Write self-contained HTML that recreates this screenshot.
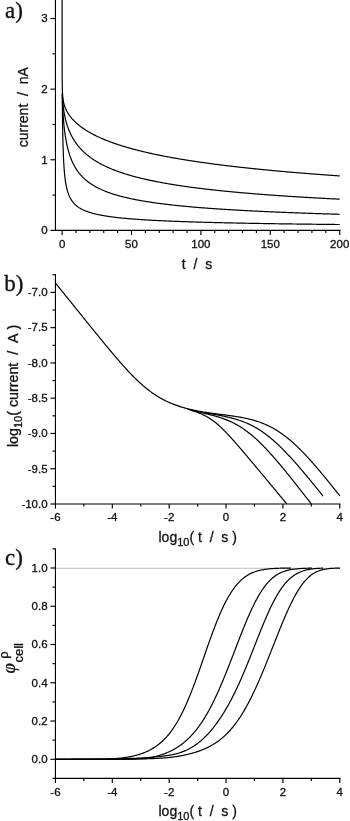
<!DOCTYPE html>
<html lang="en"><head><meta charset="utf-8"><title>Figure</title>
<style>
html,body{margin:0;padding:0;background:#fff;}
svg{display:block;}
svg{font-family:"Liberation Sans",sans-serif;}
svg text{fill:#111;stroke:#111;stroke-width:0.3px;}
</style></head><body>
<svg width="350" height="821" viewBox="0 0 350 821">
<rect width="350" height="821" fill="#fff"/>
<line x1="55.45" y1="-5.00" x2="55.45" y2="230.97" stroke="#000" stroke-width="1.15"/>
<line x1="54.88" y1="230.40" x2="340.57" y2="230.40" stroke="#000" stroke-width="1.15"/>
<line x1="50.45" y1="230.40" x2="55.45" y2="230.40" stroke="#000" stroke-width="1.15"/>
<text x="47.60" y="234.20" font-size="11.5" text-anchor="end" >0</text>
<line x1="50.45" y1="159.77" x2="55.45" y2="159.77" stroke="#000" stroke-width="1.15"/>
<text x="47.60" y="163.57" font-size="11.5" text-anchor="end" >1</text>
<line x1="50.45" y1="89.14" x2="55.45" y2="89.14" stroke="#000" stroke-width="1.15"/>
<text x="47.60" y="92.94" font-size="11.5" text-anchor="end" >2</text>
<line x1="50.45" y1="18.51" x2="55.45" y2="18.51" stroke="#000" stroke-width="1.15"/>
<text x="47.60" y="22.31" font-size="11.5" text-anchor="end" >3</text>
<line x1="52.45" y1="195.09" x2="55.45" y2="195.09" stroke="#000" stroke-width="1.15"/>
<line x1="52.45" y1="124.46" x2="55.45" y2="124.46" stroke="#000" stroke-width="1.15"/>
<line x1="52.45" y1="53.83" x2="55.45" y2="53.83" stroke="#000" stroke-width="1.15"/>
<line x1="62.10" y1="230.40" x2="62.10" y2="235.00" stroke="#000" stroke-width="1.15"/>
<text x="62.10" y="247.70" font-size="11.5" text-anchor="middle" >0</text>
<line x1="75.98" y1="230.40" x2="75.98" y2="233.00" stroke="#000" stroke-width="1.15"/>
<line x1="89.86" y1="230.40" x2="89.86" y2="233.00" stroke="#000" stroke-width="1.15"/>
<line x1="103.74" y1="230.40" x2="103.74" y2="233.00" stroke="#000" stroke-width="1.15"/>
<line x1="117.62" y1="230.40" x2="117.62" y2="233.00" stroke="#000" stroke-width="1.15"/>
<line x1="131.50" y1="230.40" x2="131.50" y2="235.00" stroke="#000" stroke-width="1.15"/>
<text x="131.50" y="247.70" font-size="11.5" text-anchor="middle" >50</text>
<line x1="145.38" y1="230.40" x2="145.38" y2="233.00" stroke="#000" stroke-width="1.15"/>
<line x1="159.26" y1="230.40" x2="159.26" y2="233.00" stroke="#000" stroke-width="1.15"/>
<line x1="173.14" y1="230.40" x2="173.14" y2="233.00" stroke="#000" stroke-width="1.15"/>
<line x1="187.02" y1="230.40" x2="187.02" y2="233.00" stroke="#000" stroke-width="1.15"/>
<line x1="200.90" y1="230.40" x2="200.90" y2="235.00" stroke="#000" stroke-width="1.15"/>
<text x="200.90" y="247.70" font-size="11.5" text-anchor="middle" >100</text>
<line x1="214.78" y1="230.40" x2="214.78" y2="233.00" stroke="#000" stroke-width="1.15"/>
<line x1="228.66" y1="230.40" x2="228.66" y2="233.00" stroke="#000" stroke-width="1.15"/>
<line x1="242.54" y1="230.40" x2="242.54" y2="233.00" stroke="#000" stroke-width="1.15"/>
<line x1="256.42" y1="230.40" x2="256.42" y2="233.00" stroke="#000" stroke-width="1.15"/>
<line x1="270.30" y1="230.40" x2="270.30" y2="235.00" stroke="#000" stroke-width="1.15"/>
<text x="270.30" y="247.70" font-size="11.5" text-anchor="middle" >150</text>
<line x1="284.18" y1="230.40" x2="284.18" y2="233.00" stroke="#000" stroke-width="1.15"/>
<line x1="298.06" y1="230.40" x2="298.06" y2="233.00" stroke="#000" stroke-width="1.15"/>
<line x1="311.94" y1="230.40" x2="311.94" y2="233.00" stroke="#000" stroke-width="1.15"/>
<line x1="325.82" y1="230.40" x2="325.82" y2="233.00" stroke="#000" stroke-width="1.15"/>
<line x1="339.70" y1="230.40" x2="339.70" y2="235.00" stroke="#000" stroke-width="1.15"/>
<text x="339.70" y="247.70" font-size="11.5" text-anchor="middle" >200</text>
<path d="M62.26,93.10 L62.26,93.70 L62.27,94.31 L62.27,94.91 L62.27,95.51 L62.28,96.11 L62.28,96.71 L62.29,97.31 L62.29,97.91 L62.30,98.52 L62.30,99.12 L62.31,99.72 L62.31,100.32 L62.32,100.92 L62.32,101.52 L62.33,102.12 L62.34,102.73 L62.34,103.33 L62.35,103.93 L62.35,104.53 L62.36,105.13 L62.36,105.73 L62.37,106.34 L62.38,106.94 L62.38,107.54 L62.39,108.14 L62.40,108.74 L62.40,109.34 L62.41,109.94 L62.42,110.55 L62.42,111.15 L62.43,111.75 L62.44,112.35 L62.44,112.95 L62.45,113.55 L62.46,114.15 L62.46,114.76 L62.47,115.36 L62.48,115.96 L62.49,116.56 L62.49,117.16 L62.50,117.76 L62.51,118.36 L62.52,118.97 L62.53,119.57 L62.53,120.17 L62.54,120.77 L62.55,121.37 L62.56,121.97 L62.57,122.58 L62.58,123.18 L62.59,123.78 L62.60,124.38 L62.61,124.98 L62.62,125.58 L62.62,126.18 L62.63,126.79 L62.64,127.39 L62.65,127.99 L62.66,128.59 L62.68,129.19 L62.69,129.79 L62.70,130.39 L62.71,131.00 L62.72,131.60 L62.73,132.20 L62.74,132.80 L62.75,133.40 L62.77,134.00 L62.78,134.60 L62.79,135.21 L62.80,135.81 L62.82,136.41 L62.83,137.01 L62.84,137.61 L62.86,138.21 L62.87,138.81 L62.88,139.41 L62.90,140.02 L62.91,140.62 L62.93,141.22 L62.94,141.82 L62.96,142.42 L62.97,143.02 L62.99,143.62 L63.01,144.23 L63.02,144.83 L63.04,145.43 L63.06,146.03 L63.08,146.63 L63.10,147.23 L63.11,147.83 L63.13,148.43 L63.15,149.04 L63.17,149.64 L63.19,150.24 L63.21,150.84 L63.23,151.44 L63.26,152.04 L63.28,152.64 L63.30,153.24 L63.32,153.84 L63.35,154.45 L63.37,155.05 L63.40,155.65 L63.42,156.25 L63.45,156.85 L63.48,157.45 L63.50,158.05 L63.53,158.65 L63.56,159.25 L63.59,159.85 L63.62,160.45 L63.65,161.06 L63.68,161.66 L63.72,162.26 L63.75,162.86 L63.78,163.46 L63.82,164.06 L63.86,164.66 L63.89,165.26 L63.93,165.86 L63.97,166.46 L64.01,167.06 L64.05,167.66 L64.10,168.26 L64.14,168.86 L64.19,169.46 L64.23,170.06 L64.28,170.66 L64.33,171.26 L64.38,171.86 L64.44,172.46 L64.49,173.06 L64.55,173.65 L64.61,174.25 L64.67,174.85 L64.73,175.45 L64.79,176.05 L64.86,176.65 L64.93,177.24 L65.00,177.84 L65.07,178.44 L65.15,179.04 L65.22,179.63 L65.31,180.23 L65.39,180.82 L65.48,181.42 L65.57,182.01 L65.66,182.61 L65.76,183.20 L65.86,183.79 L65.96,184.39 L66.07,184.98 L66.19,185.57 L66.30,186.16 L66.42,186.75 L66.55,187.34 L66.68,187.92 L66.82,188.51 L66.96,189.09 L67.11,189.67 L67.27,190.26 L67.43,190.84 L67.60,191.41 L67.78,191.99 L67.96,192.56 L68.15,193.13 L68.35,193.70 L68.56,194.26 L68.77,194.83 L69.00,195.38 L69.23,195.94 L69.48,196.49 L69.73,197.03 L70.00,197.57 L70.27,198.10 L70.56,198.63 L70.86,199.16 L71.17,199.67 L71.49,200.18 L71.83,200.68 L72.17,201.17 L72.53,201.66 L72.90,202.13 L73.28,202.60 L73.67,203.05 L74.07,203.50 L74.49,203.94 L74.91,204.36 L75.35,204.78 L75.79,205.18 L76.25,205.57 L76.71,205.96 L77.19,206.33 L77.67,206.69 L78.16,207.04 L78.65,207.38 L79.15,207.71 L79.66,208.03 L80.18,208.34 L80.70,208.64 L81.23,208.93 L81.76,209.21 L82.29,209.49 L82.83,209.75 L83.38,210.01 L83.93,210.26 L84.48,210.50 L85.03,210.73 L85.59,210.96 L86.15,211.18 L86.71,211.39 L87.28,211.60 L87.84,211.80 L88.41,211.99 L88.98,212.18 L89.55,212.37 L90.13,212.55 L90.70,212.72 L91.28,212.89 L91.86,213.06 L92.44,213.22 L93.02,213.38 L93.60,213.53 L94.18,213.68 L94.77,213.82 L95.35,213.97 L95.94,214.10 L96.52,214.24 L97.11,214.37 L97.70,214.50 L98.29,214.62 L98.88,214.75 L99.47,214.87 L100.06,214.98 L100.65,215.10 L101.24,215.21 L101.83,215.32 L102.42,215.43 L103.01,215.53 L103.61,215.64 L104.20,215.74 L104.79,215.84 L105.39,215.93 L105.98,216.03 L106.57,216.12 L107.17,216.21 L107.76,216.30 L108.36,216.39 L108.95,216.48 L109.55,216.56 L110.14,216.65 L110.74,216.73 L111.34,216.81 L111.93,216.89 L112.53,216.97 L113.13,217.04 L113.72,217.12 L114.32,217.19 L114.92,217.26 L115.51,217.34 L116.11,217.41 L116.71,217.48 L117.31,217.54 L117.90,217.61 L118.50,217.68 L119.10,217.74 L119.70,217.80 L120.30,217.87 L120.89,217.93 L121.49,217.99 L122.09,218.05 L122.69,218.11 L123.29,218.17 L123.89,218.23 L124.49,218.28 L125.09,218.34 L125.68,218.39 L126.28,218.45 L126.88,218.50 L127.48,218.56 L128.08,218.61 L128.68,218.66 L129.28,218.71 L129.88,218.76 L130.48,218.81 L131.08,218.86 L131.68,218.91 L132.28,218.95 L132.88,219.00 L133.48,219.05 L134.08,219.09 L134.68,219.14 L135.28,219.18 L135.88,219.23 L136.48,219.27 L137.08,219.32 L137.68,219.36 L138.28,219.40 L138.88,219.44 L139.48,219.48 L140.08,219.52 L140.68,219.57 L141.28,219.61 L141.88,219.64 L142.48,219.68 L143.08,219.72 L143.68,219.76 L144.28,219.80 L144.88,219.84 L145.48,219.87 L146.08,219.91 L146.68,219.95 L147.28,219.98 L147.88,220.02 L148.48,220.05 L149.08,220.09 L149.68,220.12 L150.28,220.15 L150.88,220.19 L151.48,220.22 L152.08,220.25 L152.69,220.29 L153.29,220.32 L153.89,220.35 L154.49,220.38 L155.09,220.42 L155.69,220.45 L156.29,220.48 L156.89,220.51 L157.49,220.54 L158.09,220.57 L158.69,220.60 L159.29,220.63 L159.89,220.66 L160.50,220.69 L161.10,220.71 L161.70,220.74 L162.30,220.77 L162.90,220.80 L163.50,220.83 L164.10,220.85 L164.70,220.88 L165.30,220.91 L165.90,220.93 L166.50,220.96 L167.10,220.99 L167.71,221.01 L168.31,221.04 L168.91,221.06 L169.51,221.09 L170.11,221.11 L170.71,221.14 L171.31,221.16 L171.91,221.19 L172.51,221.21 L173.11,221.24 L173.72,221.26 L174.32,221.29 L174.92,221.31 L175.52,221.33 L176.12,221.36 L176.72,221.38 L177.32,221.40 L177.92,221.42 L178.52,221.45 L179.13,221.47 L179.73,221.49 L180.33,221.51 L180.93,221.54 L181.53,221.56 L182.13,221.58 L182.73,221.60 L183.33,221.62 L183.93,221.64 L184.54,221.66 L185.14,221.68 L185.74,221.70 L186.34,221.72 L186.94,221.74 L187.54,221.76 L188.14,221.78 L188.74,221.80 L189.35,221.82 L189.95,221.84 L190.55,221.86 L191.15,221.88 L191.75,221.90 L192.35,221.92 L192.95,221.94 L193.55,221.96 L194.16,221.98 L194.76,222.00 L195.36,222.01 L195.96,222.03 L196.56,222.05 L197.16,222.07 L197.76,222.09 L198.36,222.10 L198.97,222.12 L199.57,222.14 L200.17,222.16 L200.77,222.17 L201.37,222.19 L201.97,222.21 L202.57,222.23 L203.17,222.24 L203.78,222.26 L204.38,222.28 L204.98,222.29 L205.58,222.31 L206.18,222.33 L206.78,222.34 L207.38,222.36 L207.98,222.37 L208.59,222.39 L209.19,222.41 L209.79,222.42 L210.39,222.44 L210.99,222.45 L211.59,222.47 L212.19,222.49 L212.80,222.50 L213.40,222.52 L214.00,222.53 L214.60,222.55 L215.20,222.56 L215.80,222.58 L216.40,222.59 L217.00,222.61 L217.61,222.62 L218.21,222.63 L218.81,222.65 L219.41,222.66 L220.01,222.68 L220.61,222.69 L221.21,222.71 L221.82,222.72 L222.42,222.73 L223.02,222.75 L223.62,222.76 L224.22,222.78 L224.82,222.79 L225.42,222.80 L226.03,222.82 L226.63,222.83 L227.23,222.84 L227.83,222.86 L228.43,222.87 L229.03,222.88 L229.63,222.90 L230.23,222.91 L230.84,222.92 L231.44,222.94 L232.04,222.95 L232.64,222.96 L233.24,222.97 L233.84,222.99 L234.44,223.00 L235.05,223.01 L235.65,223.02 L236.25,223.04 L236.85,223.05 L237.45,223.06 L238.05,223.07 L238.65,223.08 L239.26,223.10 L239.86,223.11 L240.46,223.12 L241.06,223.13 L241.66,223.14 L242.26,223.16 L242.86,223.17 L243.47,223.18 L244.07,223.19 L244.67,223.20 L245.27,223.21 L245.87,223.23 L246.47,223.24 L247.07,223.25 L247.68,223.26 L248.28,223.27 L248.88,223.28 L249.48,223.29 L250.08,223.30 L250.68,223.32 L251.28,223.33 L251.89,223.34 L252.49,223.35 L253.09,223.36 L253.69,223.37 L254.29,223.38 L254.89,223.39 L255.49,223.40 L256.10,223.41 L256.70,223.42 L257.30,223.43 L257.90,223.44 L258.50,223.45 L259.10,223.46 L259.70,223.47 L260.31,223.48 L260.91,223.49 L261.51,223.50 L262.11,223.51 L262.71,223.52 L263.31,223.53 L263.91,223.54 L264.52,223.55 L265.12,223.56 L265.72,223.57 L266.32,223.58 L266.92,223.59 L267.52,223.60 L268.12,223.61 L268.73,223.62 L269.33,223.63 L269.93,223.64 L270.53,223.65 L271.13,223.66 L271.73,223.67 L272.33,223.68 L272.94,223.69 L273.54,223.70 L274.14,223.71 L274.74,223.72 L275.34,223.73 L275.94,223.73 L276.54,223.74 L277.15,223.75 L277.75,223.76 L278.35,223.77 L278.95,223.78 L279.55,223.79 L280.15,223.80 L280.75,223.81 L281.36,223.82 L281.96,223.82 L282.56,223.83 L283.16,223.84 L283.76,223.85 L284.36,223.86 L284.97,223.87 L285.57,223.88 L286.17,223.88 L286.77,223.89 L287.37,223.90 L287.97,223.91 L288.57,223.92 L289.18,223.93 L289.78,223.93 L290.38,223.94 L290.98,223.95 L291.58,223.96 L292.18,223.97 L292.78,223.98 L293.39,223.98 L293.99,223.99 L294.59,224.00 L295.19,224.01 L295.79,224.02 L296.39,224.02 L296.99,224.03 L297.60,224.04 L298.20,224.05 L298.80,224.06 L299.40,224.06 L300.00,224.07 L300.60,224.08 L301.20,224.09 L301.81,224.09 L302.41,224.10 L303.01,224.11 L303.61,224.12 L304.21,224.12 L304.81,224.13 L305.42,224.14 L306.02,224.15 L306.62,224.15 L307.22,224.16 L307.82,224.17 L308.42,224.18 L309.02,224.18 L309.63,224.19 L310.23,224.20 L310.83,224.21 L311.43,224.21 L312.03,224.22 L312.63,224.23 L313.23,224.24 L313.84,224.24 L314.44,224.25 L315.04,224.26 L315.64,224.26 L316.24,224.27 L316.84,224.28 L317.44,224.28 L318.05,224.29 L318.65,224.30 L319.25,224.31 L319.85,224.31 L320.45,224.32 L321.05,224.33 L321.66,224.33 L322.26,224.34 L322.86,224.35 L323.46,224.35 L324.06,224.36 L324.66,224.37 L325.26,224.37 L325.87,224.38 L326.47,224.39 L327.07,224.39 L327.67,224.40 L328.27,224.41 L328.87,224.41 L329.47,224.42 L330.08,224.43 L330.68,224.43 L331.28,224.44 L331.88,224.45 L332.48,224.45 L333.08,224.46 L333.69,224.46 L334.29,224.47 L334.89,224.48 L335.49,224.48 L336.09,224.49 L336.69,224.50 L337.29,224.50 L337.90,224.51 L338.50,224.52 L339.10,224.52 L339.70,224.53" fill="none" stroke="#000" stroke-width="1.2" stroke-linejoin="round"/>
<path d="M62.35,94.61 L62.36,95.21 L62.37,95.81 L62.38,96.41 L62.40,97.01 L62.41,97.61 L62.43,98.22 L62.44,98.82 L62.46,99.42 L62.47,100.02 L62.49,100.62 L62.51,101.22 L62.53,101.82 L62.55,102.43 L62.57,103.03 L62.59,103.63 L62.61,104.23 L62.63,104.83 L62.65,105.43 L62.68,106.03 L62.70,106.63 L62.73,107.23 L62.76,107.84 L62.78,108.44 L62.81,109.04 L62.84,109.64 L62.87,110.24 L62.90,110.84 L62.93,111.44 L62.97,112.04 L63.00,112.64 L63.04,113.24 L63.07,113.84 L63.11,114.44 L63.15,115.04 L63.19,115.64 L63.23,116.24 L63.27,116.84 L63.31,117.44 L63.35,118.04 L63.40,118.64 L63.45,119.24 L63.49,119.84 L63.54,120.44 L63.59,121.04 L63.64,121.64 L63.69,122.24 L63.75,122.84 L63.80,123.44 L63.86,124.04 L63.92,124.64 L63.97,125.23 L64.03,125.83 L64.10,126.43 L64.16,127.03 L64.22,127.63 L64.29,128.23 L64.36,128.82 L64.43,129.42 L64.50,130.02 L64.57,130.62 L64.65,131.21 L64.72,131.81 L64.80,132.41 L64.88,133.00 L64.96,133.60 L65.05,134.19 L65.13,134.79 L65.22,135.38 L65.31,135.98 L65.40,136.57 L65.50,137.17 L65.59,137.76 L65.69,138.35 L65.79,138.95 L65.89,139.54 L66.00,140.13 L66.11,140.72 L66.22,141.32 L66.33,141.91 L66.45,142.50 L66.56,143.09 L66.68,143.68 L66.81,144.26 L66.93,144.85 L67.06,145.44 L67.19,146.03 L67.33,146.61 L67.47,147.20 L67.61,147.78 L67.75,148.37 L67.90,148.95 L68.05,149.53 L68.21,150.11 L68.37,150.69 L68.53,151.27 L68.69,151.85 L68.86,152.43 L69.04,153.00 L69.21,153.58 L69.40,154.15 L69.58,154.73 L69.77,155.30 L69.96,155.87 L70.16,156.43 L70.37,157.00 L70.57,157.56 L70.78,158.13 L71.00,158.69 L71.22,159.25 L71.45,159.81 L71.68,160.36 L71.92,160.91 L72.16,161.46 L72.40,162.01 L72.66,162.56 L72.91,163.10 L73.18,163.64 L73.44,164.18 L73.72,164.72 L74.00,165.25 L74.28,165.78 L74.57,166.31 L74.87,166.83 L75.17,167.35 L75.48,167.87 L75.79,168.38 L76.11,168.89 L76.44,169.40 L76.77,169.90 L77.11,170.40 L77.45,170.89 L77.80,171.38 L78.16,171.87 L78.52,172.35 L78.88,172.82 L79.26,173.29 L79.64,173.76 L80.02,174.22 L80.41,174.68 L80.81,175.13 L81.21,175.58 L81.62,176.03 L82.03,176.46 L82.45,176.90 L82.87,177.32 L83.30,177.75 L83.73,178.16 L84.17,178.57 L84.61,178.98 L85.06,179.38 L85.51,179.78 L85.97,180.17 L86.43,180.55 L86.90,180.93 L87.37,181.31 L87.85,181.68 L88.33,182.04 L88.81,182.40 L89.30,182.75 L89.79,183.10 L90.28,183.44 L90.78,183.78 L91.28,184.11 L91.78,184.44 L92.29,184.77 L92.80,185.08 L93.31,185.40 L93.83,185.71 L94.35,186.01 L94.87,186.31 L95.39,186.61 L95.92,186.90 L96.45,187.18 L96.98,187.46 L97.52,187.74 L98.05,188.01 L98.59,188.28 L99.13,188.55 L99.67,188.81 L100.22,189.07 L100.76,189.32 L101.31,189.57 L101.86,189.81 L102.41,190.06 L102.96,190.29 L103.51,190.53 L104.07,190.76 L104.63,190.99 L105.18,191.21 L105.74,191.43 L106.30,191.65 L106.87,191.87 L107.43,192.08 L107.99,192.29 L108.56,192.49 L109.12,192.70 L109.69,192.90 L110.26,193.09 L110.83,193.29 L111.40,193.48 L111.97,193.67 L112.54,193.86 L113.11,194.04 L113.69,194.22 L114.26,194.40 L114.84,194.58 L115.41,194.75 L115.99,194.93 L116.57,195.10 L117.14,195.26 L117.72,195.43 L118.30,195.59 L118.88,195.75 L119.46,195.91 L120.04,196.07 L120.62,196.23 L121.20,196.38 L121.79,196.53 L122.37,196.68 L122.95,196.83 L123.54,196.98 L124.12,197.12 L124.70,197.26 L125.29,197.40 L125.87,197.54 L126.46,197.68 L127.05,197.82 L127.63,197.95 L128.22,198.08 L128.81,198.21 L129.39,198.34 L129.98,198.47 L130.57,198.60 L131.16,198.72 L131.75,198.85 L132.33,198.97 L132.92,199.09 L133.51,199.21 L134.10,199.33 L134.69,199.45 L135.28,199.57 L135.87,199.68 L136.46,199.79 L137.05,199.91 L137.65,200.02 L138.24,200.13 L138.83,200.24 L139.42,200.35 L140.01,200.45 L140.60,200.56 L141.20,200.66 L141.79,200.77 L142.38,200.87 L142.97,200.97 L143.57,201.07 L144.16,201.17 L144.75,201.27 L145.35,201.37 L145.94,201.47 L146.54,201.56 L147.13,201.66 L147.72,201.75 L148.32,201.84 L148.91,201.94 L149.51,202.03 L150.10,202.12 L150.70,202.21 L151.29,202.30 L151.89,202.39 L152.48,202.47 L153.08,202.56 L153.67,202.65 L154.27,202.73 L154.86,202.82 L155.46,202.90 L156.05,202.98 L156.65,203.06 L157.25,203.15 L157.84,203.23 L158.44,203.31 L159.03,203.39 L159.63,203.47 L160.23,203.54 L160.82,203.62 L161.42,203.70 L162.02,203.77 L162.61,203.85 L163.21,203.92 L163.81,204.00 L164.40,204.07 L165.00,204.15 L165.60,204.22 L166.20,204.29 L166.79,204.36 L167.39,204.43 L167.99,204.50 L168.59,204.57 L169.18,204.64 L169.78,204.71 L170.38,204.78 L170.98,204.85 L171.57,204.91 L172.17,204.98 L172.77,205.05 L173.37,205.11 L173.97,205.18 L174.56,205.24 L175.16,205.31 L175.76,205.37 L176.36,205.43 L176.96,205.49 L177.55,205.56 L178.15,205.62 L178.75,205.68 L179.35,205.74 L179.95,205.80 L180.55,205.86 L181.15,205.92 L181.74,205.98 L182.34,206.04 L182.94,206.10 L183.54,206.16 L184.14,206.21 L184.74,206.27 L185.34,206.33 L185.94,206.38 L186.53,206.44 L187.13,206.50 L187.73,206.55 L188.33,206.61 L188.93,206.66 L189.53,206.71 L190.13,206.77 L190.73,206.82 L191.33,206.88 L191.93,206.93 L192.53,206.98 L193.12,207.03 L193.72,207.08 L194.32,207.14 L194.92,207.19 L195.52,207.24 L196.12,207.29 L196.72,207.34 L197.32,207.39 L197.92,207.44 L198.52,207.49 L199.12,207.54 L199.72,207.58 L200.32,207.63 L200.92,207.68 L201.52,207.73 L202.12,207.78 L202.72,207.82 L203.32,207.87 L203.92,207.92 L204.52,207.96 L205.12,208.01 L205.72,208.05 L206.31,208.10 L206.91,208.14 L207.51,208.19 L208.11,208.23 L208.71,208.28 L209.31,208.32 L209.91,208.37 L210.51,208.41 L211.11,208.45 L211.71,208.50 L212.31,208.54 L212.91,208.58 L213.51,208.62 L214.11,208.67 L214.71,208.71 L215.31,208.75 L215.91,208.79 L216.51,208.83 L217.11,208.87 L217.71,208.92 L218.31,208.96 L218.92,209.00 L219.52,209.04 L220.12,209.08 L220.72,209.12 L221.32,209.16 L221.92,209.19 L222.52,209.23 L223.12,209.27 L223.72,209.31 L224.32,209.35 L224.92,209.39 L225.52,209.43 L226.12,209.46 L226.72,209.50 L227.32,209.54 L227.92,209.58 L228.52,209.61 L229.12,209.65 L229.72,209.69 L230.32,209.72 L230.92,209.76 L231.52,209.80 L232.12,209.83 L232.72,209.87 L233.32,209.90 L233.92,209.94 L234.52,209.97 L235.12,210.01 L235.73,210.04 L236.33,210.08 L236.93,210.11 L237.53,210.15 L238.13,210.18 L238.73,210.21 L239.33,210.25 L239.93,210.28 L240.53,210.32 L241.13,210.35 L241.73,210.38 L242.33,210.42 L242.93,210.45 L243.53,210.48 L244.13,210.51 L244.73,210.55 L245.34,210.58 L245.94,210.61 L246.54,210.64 L247.14,210.67 L247.74,210.71 L248.34,210.74 L248.94,210.77 L249.54,210.80 L250.14,210.83 L250.74,210.86 L251.34,210.89 L251.94,210.92 L252.54,210.95 L253.14,210.98 L253.75,211.01 L254.35,211.04 L254.95,211.07 L255.55,211.10 L256.15,211.13 L256.75,211.16 L257.35,211.19 L257.95,211.22 L258.55,211.25 L259.15,211.28 L259.75,211.31 L260.35,211.34 L260.95,211.37 L261.56,211.39 L262.16,211.42 L262.76,211.45 L263.36,211.48 L263.96,211.51 L264.56,211.54 L265.16,211.56 L265.76,211.59 L266.36,211.62 L266.96,211.65 L267.56,211.67 L268.17,211.70 L268.77,211.73 L269.37,211.75 L269.97,211.78 L270.57,211.81 L271.17,211.83 L271.77,211.86 L272.37,211.89 L272.97,211.91 L273.57,211.94 L274.17,211.97 L274.78,211.99 L275.38,212.02 L275.98,212.04 L276.58,212.07 L277.18,212.09 L277.78,212.12 L278.38,212.15 L278.98,212.17 L279.58,212.20 L280.18,212.22 L280.79,212.25 L281.39,212.27 L281.99,212.30 L282.59,212.32 L283.19,212.34 L283.79,212.37 L284.39,212.39 L284.99,212.42 L285.59,212.44 L286.20,212.47 L286.80,212.49 L287.40,212.51 L288.00,212.54 L288.60,212.56 L289.20,212.59 L289.80,212.61 L290.40,212.63 L291.00,212.66 L291.60,212.68 L292.21,212.70 L292.81,212.72 L293.41,212.75 L294.01,212.77 L294.61,212.79 L295.21,212.82 L295.81,212.84 L296.41,212.86 L297.01,212.88 L297.62,212.91 L298.22,212.93 L298.82,212.95 L299.42,212.97 L300.02,213.00 L300.62,213.02 L301.22,213.04 L301.82,213.06 L302.42,213.08 L303.03,213.10 L303.63,213.13 L304.23,213.15 L304.83,213.17 L305.43,213.19 L306.03,213.21 L306.63,213.23 L307.23,213.25 L307.84,213.27 L308.44,213.30 L309.04,213.32 L309.64,213.34 L310.24,213.36 L310.84,213.38 L311.44,213.40 L312.04,213.42 L312.64,213.44 L313.25,213.46 L313.85,213.48 L314.45,213.50 L315.05,213.52 L315.65,213.54 L316.25,213.56 L316.85,213.58 L317.45,213.60 L318.06,213.62 L318.66,213.64 L319.26,213.66 L319.86,213.68 L320.46,213.70 L321.06,213.72 L321.66,213.74 L322.26,213.76 L322.87,213.78 L323.47,213.80 L324.07,213.82 L324.67,213.84 L325.27,213.85 L325.87,213.87 L326.47,213.89 L327.07,213.91 L327.67,213.93 L328.28,213.95 L328.88,213.97 L329.48,213.99 L330.08,214.00 L330.68,214.02 L331.28,214.04 L331.88,214.06 L332.48,214.08 L333.09,214.10 L333.69,214.11 L334.29,214.13 L334.89,214.15 L335.49,214.17 L336.09,214.19 L336.69,214.20 L337.29,214.22 L337.90,214.24 L338.50,214.26 L339.10,214.28 L339.70,214.29" fill="none" stroke="#000" stroke-width="1.2" stroke-linejoin="round"/>
<path d="M62.55,97.12 L62.58,97.72 L62.61,98.32 L62.64,98.92 L62.68,99.52 L62.71,100.12 L62.75,100.72 L62.80,101.32 L62.84,101.92 L62.88,102.52 L62.93,103.12 L62.98,103.72 L63.04,104.32 L63.10,104.92 L63.16,105.52 L63.22,106.12 L63.28,106.71 L63.35,107.31 L63.42,107.91 L63.50,108.50 L63.58,109.10 L63.66,109.70 L63.74,110.29 L63.83,110.89 L63.92,111.48 L64.02,112.07 L64.11,112.67 L64.21,113.26 L64.32,113.85 L64.43,114.44 L64.54,115.03 L64.66,115.62 L64.78,116.21 L64.90,116.80 L65.03,117.39 L65.16,117.98 L65.29,118.56 L65.43,119.15 L65.58,119.73 L65.72,120.31 L65.88,120.90 L66.03,121.48 L66.19,122.06 L66.35,122.63 L66.52,123.21 L66.70,123.79 L66.87,124.36 L67.05,124.94 L67.24,125.51 L67.43,126.08 L67.62,126.65 L67.82,127.21 L68.03,127.78 L68.24,128.34 L68.45,128.91 L68.67,129.47 L68.89,130.02 L69.12,130.58 L69.35,131.14 L69.59,131.69 L69.83,132.24 L70.08,132.79 L70.33,133.33 L70.59,133.88 L70.85,134.42 L71.12,134.96 L71.39,135.49 L71.67,136.03 L71.95,136.56 L72.24,137.08 L72.53,137.61 L72.83,138.13 L73.13,138.65 L73.44,139.17 L73.75,139.68 L74.07,140.19 L74.39,140.70 L74.72,141.20 L75.05,141.70 L75.39,142.20 L75.73,142.69 L76.08,143.18 L76.44,143.67 L76.79,144.15 L77.16,144.63 L77.52,145.11 L77.90,145.58 L78.27,146.05 L78.66,146.51 L79.04,146.97 L79.43,147.43 L79.83,147.88 L80.23,148.33 L80.63,148.78 L81.04,149.22 L81.46,149.66 L81.87,150.09 L82.29,150.52 L82.72,150.94 L83.15,151.36 L83.58,151.78 L84.02,152.19 L84.46,152.60 L84.91,153.00 L85.36,153.40 L85.81,153.80 L86.26,154.19 L86.72,154.58 L87.19,154.96 L87.65,155.34 L88.12,155.72 L88.59,156.09 L89.07,156.46 L89.55,156.82 L90.03,157.18 L90.51,157.54 L91.00,157.89 L91.49,158.24 L91.98,158.59 L92.48,158.93 L92.98,159.26 L93.48,159.60 L93.98,159.93 L94.49,160.25 L94.99,160.57 L95.50,160.89 L96.02,161.21 L96.53,161.52 L97.05,161.83 L97.56,162.13 L98.08,162.44 L98.61,162.73 L99.13,163.03 L99.66,163.32 L100.18,163.61 L100.71,163.89 L101.24,164.18 L101.78,164.46 L102.31,164.73 L102.85,165.00 L103.38,165.27 L103.92,165.54 L104.46,165.80 L105.00,166.07 L105.55,166.32 L106.09,166.58 L106.64,166.83 L107.18,167.08 L107.73,167.33 L108.28,167.58 L108.83,167.82 L109.38,168.06 L109.94,168.29 L110.49,168.53 L111.04,168.76 L111.60,168.99 L112.16,169.22 L112.71,169.44 L113.27,169.67 L113.83,169.89 L114.39,170.11 L114.95,170.32 L115.51,170.54 L116.08,170.75 L116.64,170.96 L117.21,171.16 L117.77,171.37 L118.34,171.57 L118.90,171.77 L119.47,171.97 L120.04,172.17 L120.61,172.37 L121.18,172.56 L121.75,172.75 L122.32,172.94 L122.89,173.13 L123.46,173.32 L124.03,173.50 L124.60,173.68 L125.18,173.87 L125.75,174.04 L126.33,174.22 L126.90,174.40 L127.48,174.57 L128.05,174.75 L128.63,174.92 L129.20,175.09 L129.78,175.26 L130.36,175.42 L130.94,175.59 L131.52,175.75 L132.10,175.91 L132.67,176.08 L133.25,176.23 L133.83,176.39 L134.42,176.55 L135.00,176.71 L135.58,176.86 L136.16,177.01 L136.74,177.16 L137.32,177.31 L137.91,177.46 L138.49,177.61 L139.07,177.76 L139.65,177.90 L140.24,178.05 L140.82,178.19 L141.41,178.33 L141.99,178.47 L142.58,178.61 L143.16,178.75 L143.75,178.89 L144.33,179.02 L144.92,179.16 L145.50,179.29 L146.09,179.43 L146.68,179.56 L147.26,179.69 L147.85,179.82 L148.44,179.95 L149.03,180.08 L149.61,180.20 L150.20,180.33 L150.79,180.45 L151.38,180.58 L151.97,180.70 L152.56,180.82 L153.14,180.95 L153.73,181.07 L154.32,181.19 L154.91,181.30 L155.50,181.42 L156.09,181.54 L156.68,181.66 L157.27,181.77 L157.86,181.89 L158.45,182.00 L159.04,182.11 L159.63,182.22 L160.22,182.34 L160.82,182.45 L161.41,182.56 L162.00,182.66 L162.59,182.77 L163.18,182.88 L163.77,182.99 L164.36,183.09 L164.96,183.20 L165.55,183.30 L166.14,183.41 L166.73,183.51 L167.33,183.61 L167.92,183.72 L168.51,183.82 L169.10,183.92 L169.70,184.02 L170.29,184.12 L170.88,184.21 L171.48,184.31 L172.07,184.41 L172.66,184.51 L173.26,184.60 L173.85,184.70 L174.44,184.79 L175.04,184.89 L175.63,184.98 L176.23,185.07 L176.82,185.17 L177.41,185.26 L178.01,185.35 L178.60,185.44 L179.20,185.53 L179.79,185.62 L180.39,185.71 L180.98,185.80 L181.58,185.89 L182.17,185.97 L182.77,186.06 L183.36,186.15 L183.96,186.23 L184.55,186.32 L185.15,186.41 L185.74,186.49 L186.34,186.57 L186.93,186.66 L187.53,186.74 L188.12,186.82 L188.72,186.91 L189.31,186.99 L189.91,187.07 L190.51,187.15 L191.10,187.23 L191.70,187.31 L192.29,187.39 L192.89,187.47 L193.49,187.55 L194.08,187.62 L194.68,187.70 L195.28,187.78 L195.87,187.86 L196.47,187.93 L197.06,188.01 L197.66,188.08 L198.26,188.16 L198.85,188.23 L199.45,188.31 L200.05,188.38 L200.64,188.45 L201.24,188.53 L201.84,188.60 L202.43,188.67 L203.03,188.74 L203.63,188.82 L204.23,188.89 L204.82,188.96 L205.42,189.03 L206.02,189.10 L206.61,189.17 L207.21,189.24 L207.81,189.31 L208.41,189.38 L209.00,189.44 L209.60,189.51 L210.20,189.58 L210.80,189.65 L211.39,189.71 L211.99,189.78 L212.59,189.85 L213.19,189.91 L213.78,189.98 L214.38,190.04 L214.98,190.11 L215.58,190.17 L216.18,190.24 L216.77,190.30 L217.37,190.37 L217.97,190.43 L218.57,190.49 L219.17,190.56 L219.76,190.62 L220.36,190.68 L220.96,190.74 L221.56,190.80 L222.16,190.87 L222.75,190.93 L223.35,190.99 L223.95,191.05 L224.55,191.11 L225.15,191.17 L225.75,191.23 L226.34,191.29 L226.94,191.35 L227.54,191.40 L228.14,191.46 L228.74,191.52 L229.34,191.58 L229.93,191.64 L230.53,191.69 L231.13,191.75 L231.73,191.81 L232.33,191.87 L232.93,191.92 L233.53,191.98 L234.12,192.03 L234.72,192.09 L235.32,192.15 L235.92,192.20 L236.52,192.26 L237.12,192.31 L237.72,192.37 L238.32,192.42 L238.91,192.47 L239.51,192.53 L240.11,192.58 L240.71,192.63 L241.31,192.69 L241.91,192.74 L242.51,192.79 L243.11,192.85 L243.71,192.90 L244.30,192.95 L244.90,193.00 L245.50,193.05 L246.10,193.11 L246.70,193.16 L247.30,193.21 L247.90,193.26 L248.50,193.31 L249.10,193.36 L249.70,193.41 L250.30,193.46 L250.90,193.51 L251.49,193.56 L252.09,193.61 L252.69,193.66 L253.29,193.71 L253.89,193.75 L254.49,193.80 L255.09,193.85 L255.69,193.90 L256.29,193.95 L256.89,193.99 L257.49,194.04 L258.09,194.09 L258.69,194.14 L259.29,194.18 L259.89,194.23 L260.49,194.28 L261.08,194.32 L261.68,194.37 L262.28,194.42 L262.88,194.46 L263.48,194.51 L264.08,194.55 L264.68,194.60 L265.28,194.64 L265.88,194.69 L266.48,194.73 L267.08,194.78 L267.68,194.82 L268.28,194.87 L268.88,194.91 L269.48,194.96 L270.08,195.00 L270.68,195.04 L271.28,195.09 L271.88,195.13 L272.48,195.17 L273.08,195.22 L273.68,195.26 L274.28,195.30 L274.88,195.34 L275.48,195.39 L276.08,195.43 L276.68,195.47 L277.28,195.51 L277.88,195.55 L278.48,195.60 L279.08,195.64 L279.67,195.68 L280.27,195.72 L280.87,195.76 L281.47,195.80 L282.07,195.84 L282.67,195.88 L283.27,195.92 L283.87,195.96 L284.47,196.00 L285.07,196.04 L285.67,196.08 L286.27,196.12 L286.87,196.16 L287.47,196.20 L288.07,196.24 L288.67,196.28 L289.27,196.32 L289.87,196.36 L290.47,196.40 L291.07,196.44 L291.67,196.48 L292.27,196.51 L292.87,196.55 L293.47,196.59 L294.07,196.63 L294.67,196.67 L295.27,196.70 L295.87,196.74 L296.47,196.78 L297.07,196.82 L297.68,196.85 L298.28,196.89 L298.88,196.93 L299.48,196.96 L300.08,197.00 L300.68,197.04 L301.28,197.07 L301.88,197.11 L302.48,197.15 L303.08,197.18 L303.68,197.22 L304.28,197.25 L304.88,197.29 L305.48,197.33 L306.08,197.36 L306.68,197.40 L307.28,197.43 L307.88,197.47 L308.48,197.50 L309.08,197.54 L309.68,197.57 L310.28,197.61 L310.88,197.64 L311.48,197.68 L312.08,197.71 L312.68,197.75 L313.28,197.78 L313.88,197.81 L314.48,197.85 L315.08,197.88 L315.68,197.92 L316.28,197.95 L316.88,197.98 L317.48,198.02 L318.08,198.05 L318.68,198.08 L319.28,198.12 L319.88,198.15 L320.49,198.18 L321.09,198.21 L321.69,198.25 L322.29,198.28 L322.89,198.31 L323.49,198.35 L324.09,198.38 L324.69,198.41 L325.29,198.44 L325.89,198.47 L326.49,198.51 L327.09,198.54 L327.69,198.57 L328.29,198.60 L328.89,198.63 L329.49,198.66 L330.09,198.70 L330.69,198.73 L331.29,198.76 L331.89,198.79 L332.49,198.82 L333.09,198.85 L333.69,198.88 L334.30,198.91 L334.90,198.94 L335.50,198.97 L336.10,199.00 L336.70,199.03 L337.30,199.07 L337.90,199.10 L338.50,199.13 L339.10,199.16 L339.70,199.19" fill="none" stroke="#000" stroke-width="1.2" stroke-linejoin="round"/>
<path d="M62.11,-5.99 L62.11,-5.39 L62.11,-4.78 L62.11,-4.18 L62.11,-3.58 L62.11,-2.98 L62.11,-2.38 L62.11,-1.78 L62.11,-1.18 L62.11,-0.58 L62.11,0.03 L62.11,0.63 L62.11,1.23 L62.11,1.83 L62.11,2.43 L62.11,3.03 L62.11,3.63 L62.11,4.24 L62.11,4.84 L62.11,5.44 L62.11,6.04 L62.11,6.64 L62.11,7.24 L62.11,7.84 L62.11,8.45 L62.11,9.05 L62.11,9.65 L62.11,10.25 L62.11,10.85 L62.11,11.45 L62.11,12.05 L62.11,12.65 L62.11,13.26 L62.11,13.86 L62.11,14.46 L62.11,15.06 L62.11,15.66 L62.11,16.26 L62.11,16.86 L62.11,17.47 L62.11,18.07 L62.11,18.67 L62.11,19.27 L62.11,19.87 L62.11,20.47 L62.11,21.07 L62.11,21.67 L62.11,22.28 L62.11,22.88 L62.11,23.48 L62.11,24.08 L62.11,24.68 L62.11,25.28 L62.11,25.88 L62.11,26.49 L62.11,27.09 L62.11,27.69 L62.11,28.29 L62.11,28.89 L62.11,29.49 L62.11,30.09 L62.11,30.69 L62.11,31.30 L62.11,31.90 L62.11,32.50 L62.11,33.10 L62.11,33.70 L62.11,34.30 L62.11,34.90 L62.11,35.51 L62.11,36.11 L62.11,36.71 L62.11,37.31 L62.11,37.91 L62.11,38.51 L62.11,39.11 L62.12,39.71 L62.12,40.32 L62.12,40.92 L62.12,41.52 L62.12,42.12 L62.12,42.72 L62.12,43.32 L62.12,43.92 L62.12,44.53 L62.12,45.13 L62.12,45.73 L62.12,46.33 L62.12,46.93 L62.12,47.53 L62.12,48.13 L62.12,48.74 L62.12,49.34 L62.12,49.94 L62.12,50.54 L62.12,51.14 L62.12,51.74 L62.12,52.34 L62.12,52.94 L62.12,53.55 L62.13,54.15 L62.13,54.75 L62.13,55.35 L62.13,55.95 L62.13,56.55 L62.13,57.15 L62.13,57.76 L62.13,58.36 L62.13,58.96 L62.13,59.56 L62.13,60.16 L62.13,60.76 L62.13,61.36 L62.14,61.96 L62.14,62.57 L62.14,63.17 L62.14,63.77 L62.14,64.37 L62.14,64.97 L62.14,65.57 L62.14,66.17 L62.14,66.78 L62.15,67.38 L62.15,67.98 L62.15,68.58 L62.15,69.18 L62.15,69.78 L62.15,70.38 L62.16,70.98 L62.16,71.59 L62.16,72.19 L62.16,72.79 L62.17,73.39 L62.17,73.99 L62.17,74.59 L62.17,75.19 L62.18,75.80 L62.18,76.40 L62.18,77.00 L62.19,77.60 L62.19,78.20 L62.20,78.80 L62.20,79.40 L62.21,80.01 L62.21,80.61 L62.22,81.21 L62.22,81.81 L62.23,82.41 L62.24,83.01 L62.24,83.61 L62.25,84.21 L62.26,84.82 L62.27,85.42 L62.28,86.02 L62.29,86.62 L62.30,87.22 L62.32,87.82 L62.33,88.42 L62.35,89.02 L62.37,89.63 L62.38,90.23 L62.40,90.83 L62.43,91.43 L62.45,92.03 L62.48,92.63 L62.51,93.23 L62.54,93.83 L62.58,94.43 L62.62,95.03 L62.67,95.63 L62.71,96.23 L62.77,96.83 L62.83,97.43 L62.89,98.02 L62.96,98.62 L63.04,99.22 L63.13,99.81 L63.22,100.41 L63.32,101.00 L63.43,101.59 L63.55,102.18 L63.68,102.77 L63.82,103.35 L63.97,103.94 L64.13,104.52 L64.29,105.09 L64.47,105.67 L64.66,106.24 L64.86,106.81 L65.07,107.37 L65.29,107.93 L65.52,108.48 L65.76,109.04 L66.01,109.58 L66.27,110.12 L66.54,110.66 L66.82,111.19 L67.11,111.72 L67.41,112.25 L67.71,112.76 L68.03,113.28 L68.35,113.78 L68.68,114.29 L69.02,114.78 L69.36,115.28 L69.72,115.76 L70.08,116.24 L70.44,116.72 L70.82,117.19 L71.20,117.66 L71.58,118.12 L71.97,118.58 L72.37,119.03 L72.78,119.47 L73.19,119.91 L73.60,120.35 L74.02,120.78 L74.44,121.20 L74.87,121.63 L75.31,122.04 L75.75,122.45 L76.19,122.86 L76.64,123.26 L77.09,123.66 L77.54,124.05 L78.00,124.44 L78.47,124.82 L78.93,125.20 L79.40,125.58 L79.88,125.95 L80.35,126.32 L80.83,126.68 L81.31,127.04 L81.80,127.39 L82.29,127.74 L82.78,128.09 L83.27,128.43 L83.77,128.77 L84.27,129.11 L84.77,129.44 L85.27,129.77 L85.78,130.09 L86.29,130.41 L86.80,130.73 L87.31,131.05 L87.83,131.36 L88.34,131.67 L88.86,131.97 L89.38,132.27 L89.90,132.57 L90.43,132.87 L90.95,133.16 L91.48,133.45 L92.01,133.73 L92.54,134.02 L93.07,134.30 L93.60,134.58 L94.14,134.85 L94.67,135.12 L95.21,135.39 L95.75,135.66 L96.29,135.92 L96.83,136.19 L97.37,136.45 L97.92,136.70 L98.46,136.96 L99.01,137.21 L99.56,137.46 L100.10,137.71 L100.65,137.95 L101.20,138.20 L101.75,138.44 L102.31,138.68 L102.86,138.91 L103.41,139.15 L103.97,139.38 L104.52,139.61 L105.08,139.84 L105.64,140.07 L106.19,140.29 L106.75,140.51 L107.31,140.73 L107.87,140.95 L108.43,141.17 L108.99,141.38 L109.56,141.60 L110.12,141.81 L110.68,142.02 L111.25,142.23 L111.81,142.43 L112.38,142.64 L112.94,142.84 L113.51,143.04 L114.08,143.24 L114.65,143.44 L115.21,143.64 L115.78,143.83 L116.35,144.02 L116.92,144.22 L117.49,144.41 L118.06,144.60 L118.63,144.78 L119.21,144.97 L119.78,145.15 L120.35,145.34 L120.92,145.52 L121.50,145.70 L122.07,145.88 L122.65,146.06 L123.22,146.23 L123.80,146.41 L124.37,146.58 L124.95,146.76 L125.52,146.93 L126.10,147.10 L126.68,147.27 L127.25,147.44 L127.83,147.60 L128.41,147.77 L128.99,147.93 L129.57,148.10 L130.15,148.26 L130.73,148.42 L131.31,148.58 L131.89,148.74 L132.47,148.90 L133.05,149.06 L133.63,149.21 L134.21,149.37 L134.79,149.52 L135.37,149.67 L135.95,149.83 L136.53,149.98 L137.12,150.13 L137.70,150.28 L138.28,150.42 L138.87,150.57 L139.45,150.72 L140.03,150.86 L140.62,151.01 L141.20,151.15 L141.78,151.29 L142.37,151.43 L142.95,151.57 L143.54,151.71 L144.12,151.85 L144.71,151.99 L145.29,152.13 L145.88,152.27 L146.47,152.40 L147.05,152.54 L147.64,152.67 L148.22,152.80 L148.81,152.94 L149.40,153.07 L149.98,153.20 L150.57,153.33 L151.16,153.46 L151.75,153.59 L152.33,153.72 L152.92,153.84 L153.51,153.97 L154.10,154.10 L154.69,154.22 L155.27,154.35 L155.86,154.47 L156.45,154.59 L157.04,154.72 L157.63,154.84 L158.22,154.96 L158.81,155.08 L159.40,155.20 L159.98,155.32 L160.57,155.44 L161.16,155.55 L161.75,155.67 L162.34,155.79 L162.93,155.90 L163.52,156.02 L164.11,156.13 L164.70,156.25 L165.30,156.36 L165.89,156.47 L166.48,156.59 L167.07,156.70 L167.66,156.81 L168.25,156.92 L168.84,157.03 L169.43,157.14 L170.02,157.25 L170.62,157.36 L171.21,157.47 L171.80,157.57 L172.39,157.68 L172.98,157.79 L173.57,157.89 L174.17,158.00 L174.76,158.10 L175.35,158.21 L175.94,158.31 L176.54,158.41 L177.13,158.52 L177.72,158.62 L178.31,158.72 L178.91,158.82 L179.50,158.92 L180.09,159.02 L180.68,159.12 L181.28,159.22 L181.87,159.32 L182.46,159.42 L183.06,159.52 L183.65,159.61 L184.24,159.71 L184.84,159.81 L185.43,159.90 L186.02,160.00 L186.62,160.10 L187.21,160.19 L187.81,160.28 L188.40,160.38 L188.99,160.47 L189.59,160.57 L190.18,160.66 L190.78,160.75 L191.37,160.84 L191.97,160.93 L192.56,161.03 L193.15,161.12 L193.75,161.21 L194.34,161.30 L194.94,161.39 L195.53,161.48 L196.13,161.56 L196.72,161.65 L197.32,161.74 L197.91,161.83 L198.51,161.92 L199.10,162.00 L199.70,162.09 L200.29,162.18 L200.89,162.26 L201.48,162.35 L202.08,162.43 L202.67,162.52 L203.27,162.60 L203.86,162.68 L204.46,162.77 L205.06,162.85 L205.65,162.93 L206.25,163.02 L206.84,163.10 L207.44,163.18 L208.03,163.26 L208.63,163.35 L209.23,163.43 L209.82,163.51 L210.42,163.59 L211.01,163.67 L211.61,163.75 L212.21,163.83 L212.80,163.91 L213.40,163.98 L213.99,164.06 L214.59,164.14 L215.19,164.22 L215.78,164.30 L216.38,164.37 L216.98,164.45 L217.57,164.53 L218.17,164.60 L218.76,164.68 L219.36,164.76 L219.96,164.83 L220.55,164.91 L221.15,164.98 L221.75,165.06 L222.34,165.13 L222.94,165.20 L223.54,165.28 L224.13,165.35 L224.73,165.43 L225.33,165.50 L225.93,165.57 L226.52,165.64 L227.12,165.72 L227.72,165.79 L228.31,165.86 L228.91,165.93 L229.51,166.00 L230.10,166.07 L230.70,166.14 L231.30,166.21 L231.90,166.28 L232.49,166.35 L233.09,166.42 L233.69,166.49 L234.29,166.56 L234.88,166.63 L235.48,166.70 L236.08,166.77 L236.68,166.84 L237.27,166.90 L237.87,166.97 L238.47,167.04 L239.07,167.11 L239.66,167.17 L240.26,167.24 L240.86,167.31 L241.46,167.37 L242.05,167.44 L242.65,167.50 L243.25,167.57 L243.85,167.64 L244.45,167.70 L245.04,167.77 L245.64,167.83 L246.24,167.89 L246.84,167.96 L247.43,168.02 L248.03,168.09 L248.63,168.15 L249.23,168.21 L249.83,168.28 L250.42,168.34 L251.02,168.40 L251.62,168.47 L252.22,168.53 L252.82,168.59 L253.41,168.65 L254.01,168.71 L254.61,168.78 L255.21,168.84 L255.81,168.90 L256.41,168.96 L257.00,169.02 L257.60,169.08 L258.20,169.14 L258.80,169.20 L259.40,169.26 L260.00,169.32 L260.59,169.38 L261.19,169.44 L261.79,169.50 L262.39,169.56 L262.99,169.62 L263.59,169.68 L264.18,169.73 L264.78,169.79 L265.38,169.85 L265.98,169.91 L266.58,169.97 L267.18,170.02 L267.78,170.08 L268.37,170.14 L268.97,170.20 L269.57,170.25 L270.17,170.31 L270.77,170.37 L271.37,170.42 L271.97,170.48 L272.57,170.53 L273.16,170.59 L273.76,170.65 L274.36,170.70 L274.96,170.76 L275.56,170.81 L276.16,170.87 L276.76,170.92 L277.36,170.98 L277.95,171.03 L278.55,171.09 L279.15,171.14 L279.75,171.19 L280.35,171.25 L280.95,171.30 L281.55,171.35 L282.15,171.41 L282.75,171.46 L283.35,171.51 L283.94,171.57 L284.54,171.62 L285.14,171.67 L285.74,171.73 L286.34,171.78 L286.94,171.83 L287.54,171.88 L288.14,171.93 L288.74,171.99 L289.34,172.04 L289.94,172.09 L290.53,172.14 L291.13,172.19 L291.73,172.24 L292.33,172.29 L292.93,172.34 L293.53,172.39 L294.13,172.44 L294.73,172.49 L295.33,172.54 L295.93,172.59 L296.53,172.64 L297.13,172.69 L297.73,172.74 L298.32,172.79 L298.92,172.84 L299.52,172.89 L300.12,172.94 L300.72,172.99 L301.32,173.04 L301.92,173.09 L302.52,173.14 L303.12,173.18 L303.72,173.23 L304.32,173.28 L304.92,173.33 L305.52,173.38 L306.12,173.42 L306.72,173.47 L307.32,173.52 L307.91,173.57 L308.51,173.61 L309.11,173.66 L309.71,173.71 L310.31,173.75 L310.91,173.80 L311.51,173.85 L312.11,173.89 L312.71,173.94 L313.31,173.99 L313.91,174.03 L314.51,174.08 L315.11,174.13 L315.71,174.17 L316.31,174.22 L316.91,174.26 L317.51,174.31 L318.11,174.35 L318.71,174.40 L319.31,174.44 L319.91,174.49 L320.51,174.53 L321.11,174.58 L321.71,174.62 L322.31,174.67 L322.90,174.71 L323.50,174.76 L324.10,174.80 L324.70,174.84 L325.30,174.89 L325.90,174.93 L326.50,174.97 L327.10,175.02 L327.70,175.06 L328.30,175.10 L328.90,175.15 L329.50,175.19 L330.10,175.23 L330.70,175.28 L331.30,175.32 L331.90,175.36 L332.50,175.41 L333.10,175.45 L333.70,175.49 L334.30,175.53 L334.90,175.57 L335.50,175.62 L336.10,175.66 L336.70,175.70 L337.30,175.74 L337.90,175.78 L338.50,175.83 L339.10,175.87 L339.70,175.91" fill="none" stroke="#000" stroke-width="1.2" stroke-linejoin="round"/>
<text x="197.00" y="268.70" font-size="14" text-anchor="middle" >t&#160;&#160;/&#160;&#160;s</text>
<text transform="translate(27.9,107.2) rotate(-90)" font-size="14" text-anchor="middle">current&#160;&#160;/&#160;&#160;nA</text>
<text x="5" y="17.8" style="font-family:'Liberation Serif',serif" font-size="23">a)</text>
<line x1="55.45" y1="274.03" x2="55.45" y2="504.57" stroke="#000" stroke-width="1.15"/>
<line x1="54.88" y1="504.00" x2="340.57" y2="504.00" stroke="#000" stroke-width="1.15"/>
<line x1="50.45" y1="292.40" x2="55.45" y2="292.40" stroke="#000" stroke-width="1.15"/>
<text x="47.60" y="296.20" font-size="11.5" text-anchor="end" >-7.0</text>
<line x1="50.45" y1="327.66" x2="55.45" y2="327.66" stroke="#000" stroke-width="1.15"/>
<text x="47.60" y="331.46" font-size="11.5" text-anchor="end" >-7.5</text>
<line x1="50.45" y1="362.93" x2="55.45" y2="362.93" stroke="#000" stroke-width="1.15"/>
<text x="47.60" y="366.73" font-size="11.5" text-anchor="end" >-8.0</text>
<line x1="50.45" y1="398.19" x2="55.45" y2="398.19" stroke="#000" stroke-width="1.15"/>
<text x="47.60" y="402.00" font-size="11.5" text-anchor="end" >-8.5</text>
<line x1="50.45" y1="433.46" x2="55.45" y2="433.46" stroke="#000" stroke-width="1.15"/>
<text x="47.60" y="437.26" font-size="11.5" text-anchor="end" >-9.0</text>
<line x1="50.45" y1="468.72" x2="55.45" y2="468.72" stroke="#000" stroke-width="1.15"/>
<text x="47.60" y="472.52" font-size="11.5" text-anchor="end" >-9.5</text>
<line x1="50.45" y1="503.99" x2="55.45" y2="503.99" stroke="#000" stroke-width="1.15"/>
<text x="47.60" y="507.79" font-size="11.5" text-anchor="end" >-10.0</text>
<line x1="52.45" y1="274.77" x2="55.45" y2="274.77" stroke="#000" stroke-width="1.15"/>
<line x1="52.45" y1="310.03" x2="55.45" y2="310.03" stroke="#000" stroke-width="1.15"/>
<line x1="52.45" y1="345.30" x2="55.45" y2="345.30" stroke="#000" stroke-width="1.15"/>
<line x1="52.45" y1="380.56" x2="55.45" y2="380.56" stroke="#000" stroke-width="1.15"/>
<line x1="52.45" y1="415.83" x2="55.45" y2="415.83" stroke="#000" stroke-width="1.15"/>
<line x1="52.45" y1="451.09" x2="55.45" y2="451.09" stroke="#000" stroke-width="1.15"/>
<line x1="52.45" y1="486.36" x2="55.45" y2="486.36" stroke="#000" stroke-width="1.15"/>
<line x1="55.45" y1="504.00" x2="55.45" y2="508.60" stroke="#000" stroke-width="1.15"/>
<text x="55.45" y="521.30" font-size="11.5" text-anchor="middle" >-6</text>
<line x1="83.88" y1="504.00" x2="83.88" y2="506.60" stroke="#000" stroke-width="1.15"/>
<line x1="112.31" y1="504.00" x2="112.31" y2="508.60" stroke="#000" stroke-width="1.15"/>
<text x="112.31" y="521.30" font-size="11.5" text-anchor="middle" >-4</text>
<line x1="140.74" y1="504.00" x2="140.74" y2="506.60" stroke="#000" stroke-width="1.15"/>
<line x1="169.17" y1="504.00" x2="169.17" y2="508.60" stroke="#000" stroke-width="1.15"/>
<text x="169.17" y="521.30" font-size="11.5" text-anchor="middle" >-2</text>
<line x1="197.60" y1="504.00" x2="197.60" y2="506.60" stroke="#000" stroke-width="1.15"/>
<line x1="226.03" y1="504.00" x2="226.03" y2="508.60" stroke="#000" stroke-width="1.15"/>
<text x="226.03" y="521.30" font-size="11.5" text-anchor="middle" >0</text>
<line x1="254.46" y1="504.00" x2="254.46" y2="506.60" stroke="#000" stroke-width="1.15"/>
<line x1="282.89" y1="504.00" x2="282.89" y2="508.60" stroke="#000" stroke-width="1.15"/>
<text x="282.89" y="521.30" font-size="11.5" text-anchor="middle" >2</text>
<line x1="311.32" y1="504.00" x2="311.32" y2="506.60" stroke="#000" stroke-width="1.15"/>
<line x1="339.75" y1="504.00" x2="339.75" y2="508.60" stroke="#000" stroke-width="1.15"/>
<text x="339.75" y="521.30" font-size="11.5" text-anchor="middle" >4</text>
<clipPath id="cb"><rect x="50" y="270" width="300" height="234.3"/></clipPath>
<path d="M187.65,409.17 L188.23,409.35 L188.81,409.54 L189.39,409.72 L189.97,409.90 L190.55,410.08 L191.13,410.26 L191.71,410.45 L192.29,410.64 L192.87,410.82 L193.45,411.01 L194.03,411.21 L194.61,411.40 L195.19,411.60 L195.77,411.80 L196.35,412.00 L196.93,412.21 L197.51,412.42 L198.09,412.64 L198.67,412.86 L199.25,413.09 L199.83,413.32 L200.41,413.56 L200.99,413.80 L201.57,414.05 L202.15,414.31 L202.73,414.58 L203.31,414.85 L203.89,415.13 L204.46,415.41 L205.04,415.71 L205.62,416.01 L206.20,416.32 L206.78,416.64 L207.36,416.97 L207.94,417.31 L208.52,417.66 L209.10,418.02 L209.68,418.38 L210.26,418.76 L210.84,419.15 L211.42,419.54 L212.00,419.95 L212.58,420.37 L213.16,420.79 L213.74,421.23 L214.32,421.67 L214.90,422.13 L215.48,422.59 L216.06,423.06 L216.64,423.55 L217.22,424.04 L217.80,424.54 L218.38,425.05 L218.96,425.56 L219.54,426.09 L220.12,426.62 L220.70,427.16 L221.28,427.71 L221.86,428.26 L222.44,428.83 L223.02,429.39 L223.60,429.97 L224.18,430.55 L224.76,431.14 L225.34,431.73 L225.92,432.33 L226.50,432.93 L227.08,433.54 L227.66,434.15 L228.24,434.77 L228.82,435.39 L229.40,436.02 L229.98,436.65 L230.56,437.28 L231.14,437.92 L231.72,438.56 L232.30,439.20 L232.88,439.85 L233.46,440.50 L234.04,441.15 L234.62,441.81 L235.20,442.46 L235.78,443.12 L236.36,443.79 L236.94,444.45 L237.51,445.11 L238.09,445.78 L238.67,446.45 L239.25,447.12 L239.83,447.79 L240.41,448.47 L240.99,449.14 L241.57,449.82 L242.15,450.50 L242.73,451.18 L243.31,451.86 L243.89,452.54 L244.47,453.22 L245.05,453.90 L245.63,454.59 L246.21,455.27 L246.79,455.96 L247.37,456.64 L247.95,457.33 L248.53,458.02 L249.11,458.70 L249.69,459.39 L250.27,460.08 L250.85,460.77 L251.43,461.46 L252.01,462.15 L252.59,462.84 L253.17,463.53 L253.75,464.23 L254.33,464.92 L254.91,465.61 L255.49,466.30 L256.07,467.00 L256.65,467.69 L257.23,468.38 L257.81,469.08 L258.39,469.77 L258.97,470.47 L259.55,471.16 L260.13,471.86 L260.71,472.55 L261.29,473.25 L261.87,473.94 L262.45,474.64 L263.03,475.33 L263.61,476.03 L264.19,476.73 L264.77,477.42 L265.35,478.12 L265.93,478.81 L266.51,479.51 L267.09,480.21 L267.67,480.90 L268.25,481.60 L268.83,482.30 L269.41,483.00 L269.99,483.69 L270.56,484.39 L271.14,485.09 L271.72,485.79 L272.30,486.48 L272.88,487.18 L273.46,487.88 L274.04,488.58 L274.62,489.27 L275.20,489.97 L275.78,490.67 L276.36,491.37 L276.94,492.07 L277.52,492.77 L278.10,493.46 L278.68,494.16 L279.26,494.86 L279.84,495.56 L280.42,496.26 L281.00,496.96 L281.58,497.65 L282.16,498.35 L282.74,499.05 L283.32,499.75 L283.90,500.45 L284.48,501.15 L285.06,501.85 L285.64,502.54 L286.22,503.24 L286.80,503.94" fill="none" stroke="#000" stroke-width="1.2" stroke-linejoin="round" clip-path="url(#cb)"/>
<path d="M190.48,409.88 L191.12,410.05 L191.76,410.22 L192.41,410.39 L193.05,410.55 L193.69,410.72 L194.33,410.88 L194.98,411.04 L195.62,411.20 L196.26,411.36 L196.91,411.51 L197.55,411.67 L198.19,411.82 L198.84,411.98 L199.48,412.13 L200.12,412.29 L200.76,412.44 L201.41,412.60 L202.05,412.75 L202.69,412.90 L203.34,413.06 L203.98,413.21 L204.62,413.37 L205.26,413.52 L205.91,413.68 L206.55,413.83 L207.19,413.99 L207.84,414.15 L208.48,414.31 L209.12,414.47 L209.77,414.63 L210.41,414.80 L211.05,414.96 L211.69,415.13 L212.34,415.30 L212.98,415.47 L213.62,415.65 L214.27,415.82 L214.91,416.00 L215.55,416.18 L216.20,416.37 L216.84,416.56 L217.48,416.75 L218.12,416.94 L218.77,417.14 L219.41,417.34 L220.05,417.55 L220.70,417.76 L221.34,417.97 L221.98,418.19 L222.63,418.41 L223.27,418.64 L223.91,418.87 L224.55,419.11 L225.20,419.35 L225.84,419.59 L226.48,419.85 L227.13,420.10 L227.77,420.37 L228.41,420.64 L229.06,420.91 L229.70,421.19 L230.34,421.48 L230.98,421.77 L231.63,422.07 L232.27,422.38 L232.91,422.69 L233.56,423.01 L234.20,423.34 L234.84,423.67 L235.49,424.01 L236.13,424.36 L236.77,424.71 L237.41,425.08 L238.06,425.45 L238.70,425.82 L239.34,426.21 L239.99,426.60 L240.63,427.00 L241.27,427.41 L241.91,427.82 L242.56,428.25 L243.20,428.68 L243.84,429.12 L244.49,429.57 L245.13,430.02 L245.77,430.48 L246.42,430.95 L247.06,431.43 L247.70,431.92 L248.34,432.41 L248.99,432.92 L249.63,433.43 L250.27,433.94 L250.92,434.47 L251.56,435.00 L252.20,435.54 L252.85,436.09 L253.49,436.64 L254.13,437.20 L254.77,437.77 L255.42,438.35 L256.06,438.93 L256.70,439.52 L257.35,440.12 L257.99,440.73 L258.63,441.34 L259.28,441.95 L259.92,442.58 L260.56,443.21 L261.20,443.84 L261.85,444.48 L262.49,445.13 L263.13,445.79 L263.78,446.45 L264.42,447.11 L265.06,447.78 L265.71,448.46 L266.35,449.14 L266.99,449.83 L267.63,450.52 L268.28,451.21 L268.92,451.91 L269.56,452.62 L270.21,453.33 L270.85,454.04 L271.49,454.76 L272.14,455.48 L272.78,456.21 L273.42,456.94 L274.06,457.68 L274.71,458.42 L275.35,459.16 L275.99,459.90 L276.64,460.65 L277.28,461.40 L277.92,462.16 L278.56,462.92 L279.21,463.68 L279.85,464.44 L280.49,465.21 L281.14,465.98 L281.78,466.75 L282.42,467.53 L283.07,468.30 L283.71,469.08 L284.35,469.87 L284.99,470.65 L285.64,471.44 L286.28,472.23 L286.92,473.02 L287.57,473.81 L288.21,474.60 L288.85,475.40 L289.50,476.20 L290.14,477.00 L290.78,477.80 L291.42,478.60 L292.07,479.41 L292.71,480.21 L293.35,481.02 L294.00,481.83 L294.64,482.64 L295.28,483.45 L295.93,484.26 L296.57,485.08 L297.21,485.89 L297.85,486.71 L298.50,487.53 L299.14,488.35 L299.78,489.16 L300.43,489.99 L301.07,490.81 L301.71,491.63 L302.36,492.45 L303.00,493.27 L303.64,494.10 L304.28,494.92 L304.93,495.75 L305.57,496.58 L306.21,497.40 L306.86,498.23 L307.50,499.06 L308.14,499.89 L308.79,500.72 L309.43,501.55 L310.07,502.38 L310.71,503.21 L311.36,504.04 L312.00,504.88" fill="none" stroke="#000" stroke-width="1.2" stroke-linejoin="round" clip-path="url(#cb)"/>
<path d="M204.31,412.55 L204.98,412.67 L205.65,412.80 L206.32,412.92 L206.99,413.04 L207.67,413.17 L208.34,413.29 L209.01,413.41 L209.68,413.53 L210.35,413.66 L211.02,413.78 L211.69,413.90 L212.36,414.02 L213.03,414.14 L213.70,414.26 L214.37,414.39 L215.04,414.51 L215.71,414.63 L216.38,414.76 L217.05,414.88 L217.72,415.01 L218.39,415.14 L219.06,415.27 L219.74,415.40 L220.41,415.53 L221.08,415.66 L221.75,415.79 L222.42,415.93 L223.09,416.07 L223.76,416.21 L224.43,416.35 L225.10,416.49 L225.77,416.64 L226.44,416.79 L227.11,416.94 L227.78,417.09 L228.45,417.25 L229.12,417.41 L229.79,417.57 L230.46,417.74 L231.13,417.91 L231.81,418.08 L232.48,418.26 L233.15,418.44 L233.82,418.62 L234.49,418.81 L235.16,419.00 L235.83,419.20 L236.50,419.40 L237.17,419.60 L237.84,419.81 L238.51,420.03 L239.18,420.25 L239.85,420.47 L240.52,420.70 L241.19,420.94 L241.86,421.18 L242.53,421.43 L243.20,421.68 L243.87,421.94 L244.55,422.20 L245.22,422.47 L245.89,422.75 L246.56,423.03 L247.23,423.32 L247.90,423.62 L248.57,423.92 L249.24,424.23 L249.91,424.55 L250.58,424.87 L251.25,425.20 L251.92,425.54 L252.59,425.89 L253.26,426.24 L253.93,426.60 L254.60,426.97 L255.27,427.34 L255.94,427.72 L256.62,428.11 L257.29,428.51 L257.96,428.92 L258.63,429.33 L259.30,429.75 L259.97,430.18 L260.64,430.62 L261.31,431.06 L261.98,431.52 L262.65,431.98 L263.32,432.45 L263.99,432.92 L264.66,433.41 L265.33,433.90 L266.00,434.40 L266.67,434.90 L267.34,435.42 L268.01,435.94 L268.69,436.47 L269.36,437.01 L270.03,437.56 L270.70,438.11 L271.37,438.67 L272.04,439.24 L272.71,439.81 L273.38,440.39 L274.05,440.98 L274.72,441.58 L275.39,442.18 L276.06,442.79 L276.73,443.40 L277.40,444.03 L278.07,444.66 L278.74,445.29 L279.41,445.93 L280.08,446.58 L280.76,447.23 L281.43,447.89 L282.10,448.56 L282.77,449.23 L283.44,449.91 L284.11,450.59 L284.78,451.28 L285.45,451.97 L286.12,452.67 L286.79,453.37 L287.46,454.08 L288.13,454.79 L288.80,455.51 L289.47,456.23 L290.14,456.95 L290.81,457.68 L291.48,458.42 L292.15,459.16 L292.83,459.90 L293.50,460.65 L294.17,461.40 L294.84,462.15 L295.51,462.91 L296.18,463.67 L296.85,464.43 L297.52,465.20 L298.19,465.97 L298.86,466.75 L299.53,467.53 L300.20,468.31 L300.87,469.09 L301.54,469.87 L302.21,470.66 L302.88,471.45 L303.55,472.25 L304.22,473.04 L304.90,473.84 L305.57,474.64 L306.24,475.44 L306.91,476.25 L307.58,477.06 L308.25,477.86 L308.92,478.68 L309.59,479.49 L310.26,480.30 L310.93,481.12 L311.60,481.94 L312.27,482.76 L312.94,483.58 L313.61,484.40 L314.28,485.23 L314.95,486.05 L315.62,486.88 L316.29,487.71 L316.97,488.54 L317.64,489.37 L318.31,490.20 L318.98,491.03 L319.65,491.87 L320.32,492.70 L320.99,493.54 L321.66,494.38 L322.33,495.22 L323.00,496.06" fill="none" stroke="#000" stroke-width="1.2" stroke-linejoin="round" clip-path="url(#cb)"/>
<path d="M55.45,283.01 L56.16,283.90 L56.88,284.78 L57.59,285.67 L58.30,286.55 L59.01,287.43 L59.73,288.32 L60.44,289.20 L61.15,290.09 L61.86,290.97 L62.58,291.86 L63.29,292.74 L64.00,293.63 L64.71,294.51 L65.43,295.39 L66.14,296.28 L66.85,297.16 L67.57,298.05 L68.28,298.93 L68.99,299.82 L69.70,300.70 L70.42,301.58 L71.13,302.47 L71.84,303.35 L72.55,304.24 L73.27,305.12 L73.98,306.00 L74.69,306.89 L75.40,307.77 L76.12,308.65 L76.83,309.54 L77.54,310.42 L78.26,311.30 L78.97,312.19 L79.68,313.07 L80.39,313.95 L81.11,314.84 L81.82,315.72 L82.53,316.60 L83.24,317.48 L83.96,318.37 L84.67,319.25 L85.38,320.13 L86.09,321.01 L86.81,321.89 L87.52,322.77 L88.23,323.65 L88.94,324.54 L89.66,325.42 L90.37,326.30 L91.08,327.18 L91.80,328.05 L92.51,328.93 L93.22,329.81 L93.93,330.69 L94.65,331.57 L95.36,332.44 L96.07,333.32 L96.78,334.20 L97.50,335.07 L98.21,335.95 L98.92,336.82 L99.63,337.69 L100.35,338.57 L101.06,339.44 L101.77,340.31 L102.49,341.18 L103.20,342.05 L103.91,342.91 L104.62,343.78 L105.34,344.64 L106.05,345.51 L106.76,346.37 L107.47,347.23 L108.19,348.09 L108.90,348.95 L109.61,349.81 L110.32,350.66 L111.04,351.51 L111.75,352.36 L112.46,353.21 L113.18,354.06 L113.89,354.90 L114.60,355.74 L115.31,356.58 L116.03,357.42 L116.74,358.25 L117.45,359.08 L118.16,359.90 L118.88,360.73 L119.59,361.55 L120.30,362.36 L121.01,363.18 L121.73,363.99 L122.44,364.79 L123.15,365.59 L123.87,366.39 L124.58,367.18 L125.29,367.97 L126.00,368.75 L126.72,369.53 L127.43,370.30 L128.14,371.07 L128.85,371.83 L129.57,372.58 L130.28,373.33 L130.99,374.08 L131.70,374.81 L132.42,375.54 L133.13,376.27 L133.84,376.99 L134.55,377.70 L135.27,378.40 L135.98,379.10 L136.69,379.79 L137.41,380.47 L138.12,381.15 L138.83,381.81 L139.54,382.47 L140.26,383.12 L140.97,383.77 L141.68,384.40 L142.39,385.03 L143.11,385.65 L143.82,386.26 L144.53,386.86 L145.24,387.45 L145.96,388.04 L146.67,388.61 L147.38,389.18 L148.10,389.74 L148.81,390.29 L149.52,390.83 L150.23,391.36 L150.95,391.89 L151.66,392.40 L152.37,392.91 L153.08,393.41 L153.80,393.90 L154.51,394.38 L155.22,394.85 L155.93,395.31 L156.65,395.77 L157.36,396.21 L158.07,396.65 L158.79,397.08 L159.50,397.50 L160.21,397.92 L160.92,398.32 L161.64,398.72 L162.35,399.11 L163.06,399.49 L163.77,399.87 L164.49,400.24 L165.20,400.59 L165.91,400.95 L166.62,401.29 L167.34,401.63 L168.05,401.96 L168.76,402.28 L169.48,402.60 L170.19,402.91 L170.90,403.22 L171.61,403.51 L172.33,403.81 L173.04,404.09 L173.75,404.37 L174.46,404.64 L175.18,404.91 L175.89,405.17 L176.60,405.43 L177.31,405.68 L178.03,405.92 L178.74,406.16 L179.45,406.39 L180.16,406.62 L180.88,406.85 L181.59,407.07 L182.30,407.28 L183.02,407.49 L183.73,407.70 L184.44,407.90 L185.15,408.10 L185.87,408.29 L186.58,408.48 L187.29,408.66 L188.00,408.84 L188.72,409.02 L189.43,409.19 L190.14,409.36 L190.85,409.53 L191.57,409.69 L192.28,409.85 L192.99,410.00 L193.71,410.16 L194.42,410.31 L195.13,410.45 L195.84,410.60 L196.56,410.74 L197.27,410.87 L197.98,411.01 L198.69,411.14 L199.41,411.27 L200.12,411.40 L200.83,411.53 L201.54,411.65 L202.26,411.77 L202.97,411.89 L203.68,412.01 L204.40,412.12 L205.11,412.23 L205.82,412.35 L206.53,412.46 L207.25,412.56 L207.96,412.67 L208.67,412.78 L209.38,412.88 L210.10,412.98 L210.81,413.08 L211.52,413.18 L212.23,413.28 L212.95,413.38 L213.66,413.48 L214.37,413.57 L215.09,413.67 L215.80,413.76 L216.51,413.86 L217.22,413.95 L217.94,414.05 L218.65,414.14 L219.36,414.23 L220.07,414.32 L220.79,414.42 L221.50,414.51 L222.21,414.60 L222.92,414.69 L223.64,414.79 L224.35,414.88 L225.06,414.97 L225.77,415.07 L226.49,415.16 L227.20,415.26 L227.91,415.35 L228.63,415.45 L229.34,415.55 L230.05,415.65 L230.76,415.75 L231.48,415.85 L232.19,415.95 L232.90,416.06 L233.61,416.16 L234.33,416.27 L235.04,416.38 L235.75,416.49 L236.46,416.60 L237.18,416.72 L237.89,416.84 L238.60,416.96 L239.32,417.08 L240.03,417.20 L240.74,417.33 L241.45,417.46 L242.17,417.60 L242.88,417.73 L243.59,417.87 L244.30,418.02 L245.02,418.16 L245.73,418.31 L246.44,418.47 L247.15,418.62 L247.87,418.78 L248.58,418.95 L249.29,419.12 L250.01,419.30 L250.72,419.47 L251.43,419.66 L252.14,419.85 L252.86,420.04 L253.57,420.24 L254.28,420.44 L254.99,420.65 L255.71,420.87 L256.42,421.09 L257.13,421.32 L257.84,421.55 L258.56,421.79 L259.27,422.03 L259.98,422.28 L260.70,422.54 L261.41,422.81 L262.12,423.08 L262.83,423.36 L263.55,423.64 L264.26,423.94 L264.97,424.24 L265.68,424.55 L266.40,424.86 L267.11,425.18 L267.82,425.52 L268.53,425.86 L269.25,426.20 L269.96,426.56 L270.67,426.92 L271.38,427.29 L272.10,427.67 L272.81,428.06 L273.52,428.46 L274.24,428.87 L274.95,429.28 L275.66,429.70 L276.37,430.13 L277.09,430.58 L277.80,431.03 L278.51,431.48 L279.22,431.95 L279.94,432.43 L280.65,432.91 L281.36,433.41 L282.07,433.91 L282.79,434.42 L283.50,434.94 L284.21,435.47 L284.93,436.01 L285.64,436.56 L286.35,437.11 L287.06,437.68 L287.78,438.25 L288.49,438.83 L289.20,439.42 L289.91,440.02 L290.63,440.62 L291.34,441.24 L292.05,441.86 L292.76,442.49 L293.48,443.13 L294.19,443.78 L294.90,444.43 L295.62,445.09 L296.33,445.76 L297.04,446.44 L297.75,447.12 L298.47,447.81 L299.18,448.51 L299.89,449.21 L300.60,449.93 L301.32,450.64 L302.03,451.37 L302.74,452.10 L303.45,452.84 L304.17,453.58 L304.88,454.33 L305.59,455.08 L306.31,455.84 L307.02,456.61 L307.73,457.38 L308.44,458.16 L309.16,458.94 L309.87,459.73 L310.58,460.52 L311.29,461.31 L312.01,462.12 L312.72,462.92 L313.43,463.73 L314.14,464.55 L314.86,465.36 L315.57,466.19 L316.28,467.01 L316.99,467.84 L317.71,468.68 L318.42,469.52 L319.13,470.36 L319.85,471.20 L320.56,472.05 L321.27,472.90 L321.98,473.76 L322.70,474.61 L323.41,475.47 L324.12,476.34 L324.83,477.20 L325.55,478.07 L326.26,478.94 L326.97,479.82 L327.68,480.69 L328.40,481.57 L329.11,482.45 L329.82,483.33 L330.54,484.22 L331.25,485.11 L331.96,485.99 L332.67,486.88 L333.39,487.78 L334.10,488.67 L334.81,489.57 L335.52,490.47 L336.24,491.36 L336.95,492.27 L337.66,493.17 L338.37,494.07 L339.09,494.98 L339.80,495.88" fill="none" stroke="#000" stroke-width="1.2" stroke-linejoin="round" clip-path="url(#cb)"/>
<text x="197.70" y="542.10" font-size="14" text-anchor="middle" >log<tspan font-size="11" dy="3.5">10</tspan><tspan dy="-3.5">(&#160;t&#160;&#160;/&#160;&#160;s&#160;)</tspan></text>
<text transform="translate(18.3,385.9) rotate(-90)" font-size="14.25" text-anchor="middle">log<tspan font-size="11" dy="3.5">10</tspan><tspan dy="-3.5">(&#160;current&#160;&#160;/&#160;&#160;A&#160;)</tspan></text>
<text x="4.2" y="291" style="font-family:'Liberation Serif',serif" font-size="23">b)</text>
<line x1="55.45" y1="568.30" x2="340.00" y2="568.30" stroke="#b8b8b8" stroke-width="0.9"/>
<line x1="55.45" y1="548.42" x2="55.45" y2="778.98" stroke="#000" stroke-width="1.15"/>
<line x1="54.88" y1="778.40" x2="340.57" y2="778.40" stroke="#000" stroke-width="1.15"/>
<line x1="52.45" y1="778.43" x2="55.45" y2="778.43" stroke="#000" stroke-width="1.15"/>
<line x1="50.45" y1="759.30" x2="55.45" y2="759.30" stroke="#000" stroke-width="1.15"/>
<text x="47.60" y="763.10" font-size="11.5" text-anchor="end" >0.0</text>
<line x1="52.45" y1="740.17" x2="55.45" y2="740.17" stroke="#000" stroke-width="1.15"/>
<line x1="50.45" y1="721.04" x2="55.45" y2="721.04" stroke="#000" stroke-width="1.15"/>
<text x="47.60" y="724.84" font-size="11.5" text-anchor="end" >0.2</text>
<line x1="52.45" y1="701.91" x2="55.45" y2="701.91" stroke="#000" stroke-width="1.15"/>
<line x1="50.45" y1="682.78" x2="55.45" y2="682.78" stroke="#000" stroke-width="1.15"/>
<text x="47.60" y="686.58" font-size="11.5" text-anchor="end" >0.4</text>
<line x1="52.45" y1="663.65" x2="55.45" y2="663.65" stroke="#000" stroke-width="1.15"/>
<line x1="50.45" y1="644.52" x2="55.45" y2="644.52" stroke="#000" stroke-width="1.15"/>
<text x="47.60" y="648.32" font-size="11.5" text-anchor="end" >0.6</text>
<line x1="52.45" y1="625.39" x2="55.45" y2="625.39" stroke="#000" stroke-width="1.15"/>
<line x1="50.45" y1="606.26" x2="55.45" y2="606.26" stroke="#000" stroke-width="1.15"/>
<text x="47.60" y="610.06" font-size="11.5" text-anchor="end" >0.8</text>
<line x1="52.45" y1="587.13" x2="55.45" y2="587.13" stroke="#000" stroke-width="1.15"/>
<line x1="50.45" y1="568.00" x2="55.45" y2="568.00" stroke="#000" stroke-width="1.15"/>
<text x="47.60" y="571.80" font-size="11.5" text-anchor="end" >1.0</text>
<line x1="52.45" y1="548.87" x2="55.45" y2="548.87" stroke="#000" stroke-width="1.15"/>
<line x1="55.45" y1="778.40" x2="55.45" y2="783.00" stroke="#000" stroke-width="1.15"/>
<text x="55.45" y="795.70" font-size="11.5" text-anchor="middle" >-6</text>
<line x1="83.88" y1="778.40" x2="83.88" y2="781.00" stroke="#000" stroke-width="1.15"/>
<line x1="112.31" y1="778.40" x2="112.31" y2="783.00" stroke="#000" stroke-width="1.15"/>
<text x="112.31" y="795.70" font-size="11.5" text-anchor="middle" >-4</text>
<line x1="140.74" y1="778.40" x2="140.74" y2="781.00" stroke="#000" stroke-width="1.15"/>
<line x1="169.17" y1="778.40" x2="169.17" y2="783.00" stroke="#000" stroke-width="1.15"/>
<text x="169.17" y="795.70" font-size="11.5" text-anchor="middle" >-2</text>
<line x1="197.60" y1="778.40" x2="197.60" y2="781.00" stroke="#000" stroke-width="1.15"/>
<line x1="226.03" y1="778.40" x2="226.03" y2="783.00" stroke="#000" stroke-width="1.15"/>
<text x="226.03" y="795.70" font-size="11.5" text-anchor="middle" >0</text>
<line x1="254.46" y1="778.40" x2="254.46" y2="781.00" stroke="#000" stroke-width="1.15"/>
<line x1="282.89" y1="778.40" x2="282.89" y2="783.00" stroke="#000" stroke-width="1.15"/>
<text x="282.89" y="795.70" font-size="11.5" text-anchor="middle" >2</text>
<line x1="311.32" y1="778.40" x2="311.32" y2="781.00" stroke="#000" stroke-width="1.15"/>
<line x1="339.75" y1="778.40" x2="339.75" y2="783.00" stroke="#000" stroke-width="1.15"/>
<text x="339.75" y="795.70" font-size="11.5" text-anchor="middle" >4</text>
<path d="M55.45,759.30 L56.04,759.30 L56.63,759.30 L57.22,759.30 L57.81,759.30 L58.40,759.30 L58.99,759.30 L59.58,759.30 L60.17,759.30 L60.76,759.30 L61.35,759.30 L61.94,759.30 L62.53,759.29 L63.12,759.29 L63.71,759.29 L64.31,759.29 L64.90,759.29 L65.49,759.29 L66.08,759.29 L66.67,759.29 L67.26,759.29 L67.85,759.29 L68.44,759.29 L69.03,759.29 L69.62,759.29 L70.21,759.29 L70.80,759.29 L71.39,759.29 L71.98,759.29 L72.57,759.29 L73.16,759.29 L73.75,759.29 L74.34,759.28 L74.93,759.28 L75.52,759.28 L76.11,759.28 L76.70,759.28 L77.29,759.28 L77.88,759.28 L78.47,759.28 L79.06,759.28 L79.65,759.27 L80.24,759.27 L80.84,759.27 L81.43,759.27 L82.02,759.27 L82.61,759.27 L83.20,759.26 L83.79,759.26 L84.38,759.26 L84.97,759.26 L85.56,759.26 L86.15,759.25 L86.74,759.25 L87.33,759.25 L87.92,759.24 L88.51,759.24 L89.10,759.24 L89.69,759.23 L90.28,759.23 L90.87,759.23 L91.46,759.22 L92.05,759.22 L92.64,759.21 L93.23,759.21 L93.82,759.20 L94.41,759.20 L95.00,759.19 L95.59,759.18 L96.18,759.18 L96.77,759.17 L97.36,759.16 L97.96,759.16 L98.55,759.15 L99.14,759.14 L99.73,759.13 L100.32,759.12 L100.91,759.11 L101.50,759.10 L102.09,759.09 L102.68,759.08 L103.27,759.06 L103.86,759.05 L104.45,759.03 L105.04,759.02 L105.63,759.00 L106.22,758.99 L106.81,758.97 L107.40,758.95 L107.99,758.93 L108.58,758.91 L109.17,758.89 L109.76,758.86 L110.35,758.84 L110.94,758.81 L111.53,758.78 L112.12,758.75 L112.71,758.72 L113.30,758.69 L113.89,758.66 L114.49,758.62 L115.08,758.58 L115.67,758.54 L116.26,758.50 L116.85,758.45 L117.44,758.40 L118.03,758.35 L118.62,758.30 L119.21,758.24 L119.80,758.18 L120.39,758.12 L120.98,758.05 L121.57,757.98 L122.16,757.91 L122.75,757.84 L123.34,757.76 L123.93,757.68 L124.52,757.60 L125.11,757.51 L125.70,757.42 L126.29,757.33 L126.88,757.24 L127.47,757.14 L128.06,757.04 L128.65,756.93 L129.24,756.83 L129.83,756.71 L130.42,756.60 L131.01,756.48 L131.61,756.36 L132.20,756.23 L132.79,756.10 L133.38,755.96 L133.97,755.82 L134.56,755.68 L135.15,755.53 L135.74,755.38 L136.33,755.22 L136.92,755.06 L137.51,754.90 L138.10,754.72 L138.69,754.55 L139.28,754.37 L139.87,754.18 L140.46,753.99 L141.05,753.79 L141.64,753.58 L142.23,753.37 L142.82,753.16 L143.41,752.93 L144.00,752.70 L144.59,752.47 L145.18,752.23 L145.77,751.98 L146.36,751.72 L146.95,751.45 L147.54,751.18 L148.14,750.90 L148.73,750.62 L149.32,750.32 L149.91,750.02 L150.50,749.70 L151.09,749.38 L151.68,749.05 L152.27,748.71 L152.86,748.36 L153.45,748.00 L154.04,747.63 L154.63,747.25 L155.22,746.86 L155.81,746.46 L156.40,746.05 L156.99,745.63 L157.58,745.19 L158.17,744.74 L158.76,744.28 L159.35,743.81 L159.94,743.33 L160.53,742.83 L161.12,742.32 L161.71,741.79 L162.30,741.25 L162.89,740.70 L163.48,740.13 L164.07,739.55 L164.66,738.95 L165.26,738.33 L165.85,737.70 L166.44,737.06 L167.03,736.39 L167.62,735.71 L168.21,735.01 L168.80,734.30 L169.39,733.57 L169.98,732.82 L170.57,732.05 L171.16,731.26 L171.75,730.45 L172.34,729.62 L172.93,728.78 L173.52,727.91 L174.11,727.03 L174.70,726.12 L175.29,725.20 L175.88,724.25 L176.47,723.28 L177.06,722.29 L177.65,721.28 L178.24,720.25 L178.83,719.20 L179.42,718.12 L180.01,717.03 L180.60,715.91 L181.19,714.77 L181.79,713.61 L182.38,712.43 L182.97,711.22 L183.56,709.99 L184.15,708.75 L184.74,707.48 L185.33,706.19 L185.92,704.87 L186.51,703.54 L187.10,702.19 L187.69,700.81 L188.28,699.42 L188.87,698.01 L189.46,696.57 L190.05,695.12 L190.64,693.65 L191.23,692.16 L191.82,690.65 L192.41,689.13 L193.00,687.59 L193.59,686.04 L194.18,684.46 L194.77,682.88 L195.36,681.28 L195.95,679.67 L196.54,678.04 L197.13,676.41 L197.72,674.76 L198.31,673.10 L198.91,671.44 L199.50,669.76 L200.09,668.08 L200.68,666.40 L201.27,664.70 L201.86,663.01 L202.45,661.31 L203.04,659.60 L203.63,657.90 L204.22,656.20 L204.81,654.49 L205.40,652.79 L205.99,651.09 L206.58,649.39 L207.17,647.70 L207.76,646.02 L208.35,644.34 L208.94,642.67 L209.53,641.00 L210.12,639.35 L210.71,637.71 L211.30,636.08 L211.89,634.46 L212.48,632.85 L213.07,631.26 L213.66,629.68 L214.25,628.12 L214.84,626.57 L215.44,625.04 L216.03,623.53 L216.62,622.04 L217.21,620.57 L217.80,619.11 L218.39,617.68 L218.98,616.27 L219.57,614.88 L220.16,613.51 L220.75,612.16 L221.34,610.83 L221.93,609.53 L222.52,608.25 L223.11,607.00 L223.70,605.77 L224.29,604.56 L224.88,603.38 L225.47,602.22 L226.06,601.08 L226.65,599.97 L227.24,598.89 L227.83,597.83 L228.42,596.79 L229.01,595.78 L229.60,594.79 L230.19,593.83 L230.78,592.89 L231.37,591.97 L231.96,591.08 L232.56,590.22 L233.15,589.37 L233.74,588.55 L234.33,587.76 L234.92,586.98 L235.51,586.23 L236.10,585.50 L236.69,584.80 L237.28,584.11 L237.87,583.45 L238.46,582.80 L239.05,582.18 L239.64,581.58 L240.23,581.00 L240.82,580.43 L241.41,579.89 L242.00,579.37 L242.59,578.86 L243.18,578.37 L243.77,577.90 L244.36,577.45 L244.95,577.01 L245.54,576.59 L246.13,576.18 L246.72,575.80 L247.31,575.42 L247.90,575.06 L248.49,574.72 L249.09,574.39 L249.68,574.07 L250.27,573.76 L250.86,573.47 L251.45,573.19 L252.04,572.92 L252.63,572.67 L253.22,572.42 L253.81,572.19 L254.40,571.97 L254.99,571.75 L255.58,571.55 L256.17,571.35 L256.76,571.17 L257.35,570.99 L257.94,570.82 L258.53,570.66 L259.12,570.51 L259.71,570.37 L260.30,570.23 L260.89,570.10 L261.48,569.97 L262.07,569.86 L262.66,569.75 L263.25,569.64 L263.84,569.54 L264.43,569.44 L265.02,569.36 L265.61,569.27 L266.21,569.19 L266.80,569.11 L267.39,569.04 L267.98,568.98 L268.57,568.91 L269.16,568.85 L269.75,568.80 L270.34,568.74 L270.93,568.69 L271.52,568.65 L272.11,568.60 L272.70,568.56 L273.29,568.52 L273.88,568.49 L274.47,568.45 L275.06,568.42 L275.65,568.39 L276.24,568.36 L276.83,568.34 L277.42,568.31 L278.01,568.29 L278.60,568.27 L279.19,568.25 L279.78,568.23 L280.37,568.21 L280.96,568.20 L281.55,568.18 L282.14,568.17 L282.74,568.16 L283.33,568.15 L283.92,568.14 L284.51,568.13 L285.10,568.12 L285.69,568.11 L286.28,568.10 L286.87,568.09 L287.46,568.09 L288.05,568.08 L288.64,568.07 L289.23,568.07 L289.82,568.06 L290.41,568.06 L291.00,568.05" fill="none" stroke="#000" stroke-width="1.2" stroke-linejoin="round"/>
<path d="M55.45,759.30 L56.09,759.30 L56.74,759.30 L57.38,759.30 L58.02,759.30 L58.66,759.30 L59.31,759.30 L59.95,759.30 L60.59,759.30 L61.24,759.30 L61.88,759.30 L62.52,759.30 L63.17,759.30 L63.81,759.30 L64.45,759.30 L65.09,759.30 L65.74,759.30 L66.38,759.30 L67.02,759.30 L67.67,759.30 L68.31,759.30 L68.95,759.30 L69.60,759.30 L70.24,759.30 L70.88,759.30 L71.52,759.30 L72.17,759.30 L72.81,759.30 L73.45,759.30 L74.10,759.30 L74.74,759.30 L75.38,759.30 L76.03,759.30 L76.67,759.30 L77.31,759.30 L77.95,759.30 L78.60,759.30 L79.24,759.30 L79.88,759.30 L80.53,759.30 L81.17,759.30 L81.81,759.30 L82.46,759.30 L83.10,759.30 L83.74,759.30 L84.38,759.30 L85.03,759.30 L85.67,759.30 L86.31,759.30 L86.96,759.30 L87.60,759.30 L88.24,759.30 L88.89,759.30 L89.53,759.30 L90.17,759.30 L90.81,759.30 L91.46,759.30 L92.10,759.30 L92.74,759.30 L93.39,759.30 L94.03,759.30 L94.67,759.30 L95.31,759.30 L95.96,759.30 L96.60,759.30 L97.24,759.29 L97.89,759.29 L98.53,759.29 L99.17,759.29 L99.82,759.29 L100.46,759.29 L101.10,759.29 L101.74,759.29 L102.39,759.29 L103.03,759.29 L103.67,759.29 L104.32,759.29 L104.96,759.29 L105.60,759.29 L106.25,759.29 L106.89,759.29 L107.53,759.28 L108.17,759.28 L108.82,759.28 L109.46,759.28 L110.10,759.28 L110.75,759.28 L111.39,759.28 L112.03,759.27 L112.68,759.27 L113.32,759.27 L113.96,759.27 L114.60,759.27 L115.25,759.26 L115.89,759.26 L116.53,759.26 L117.18,759.25 L117.82,759.25 L118.46,759.25 L119.11,759.24 L119.75,759.24 L120.39,759.24 L121.03,759.23 L121.68,759.23 L122.32,759.22 L122.96,759.21 L123.61,759.21 L124.25,759.20 L124.89,759.19 L125.54,759.19 L126.18,759.18 L126.82,759.17 L127.46,759.16 L128.11,759.15 L128.75,759.14 L129.39,759.13 L130.04,759.12 L130.68,759.10 L131.32,759.09 L131.96,759.07 L132.61,759.06 L133.25,759.04 L133.89,759.02 L134.54,759.00 L135.18,758.98 L135.82,758.95 L136.47,758.93 L137.11,758.90 L137.75,758.87 L138.39,758.84 L139.04,758.81 L139.68,758.77 L140.32,758.73 L140.97,758.69 L141.61,758.65 L142.25,758.60 L142.90,758.55 L143.54,758.50 L144.18,758.44 L144.82,758.38 L145.47,758.31 L146.11,758.24 L146.75,758.16 L147.40,758.08 L148.04,757.99 L148.68,757.90 L149.33,757.80 L149.97,757.69 L150.61,757.57 L151.25,757.45 L151.90,757.33 L152.54,757.20 L153.18,757.06 L153.83,756.92 L154.47,756.77 L155.11,756.62 L155.76,756.46 L156.40,756.30 L157.04,756.13 L157.68,755.95 L158.33,755.77 L158.97,755.58 L159.61,755.39 L160.26,755.19 L160.90,754.98 L161.54,754.77 L162.19,754.55 L162.83,754.32 L163.47,754.09 L164.11,753.85 L164.76,753.61 L165.40,753.35 L166.04,753.10 L166.69,752.83 L167.33,752.56 L167.97,752.27 L168.61,751.99 L169.26,751.69 L169.90,751.39 L170.54,751.08 L171.19,750.76 L171.83,750.43 L172.47,750.09 L173.12,749.75 L173.76,749.40 L174.40,749.03 L175.04,748.66 L175.69,748.28 L176.33,747.89 L176.97,747.50 L177.62,747.09 L178.26,746.67 L178.90,746.24 L179.55,745.80 L180.19,745.35 L180.83,744.89 L181.47,744.41 L182.12,743.93 L182.76,743.43 L183.40,742.93 L184.05,742.41 L184.69,741.87 L185.33,741.33 L185.98,740.77 L186.62,740.20 L187.26,739.61 L187.90,739.02 L188.55,738.40 L189.19,737.78 L189.83,737.13 L190.48,736.48 L191.12,735.81 L191.76,735.12 L192.41,734.42 L193.05,733.70 L193.69,732.97 L194.33,732.22 L194.98,731.45 L195.62,730.66 L196.26,729.86 L196.91,729.05 L197.55,728.21 L198.19,727.36 L198.84,726.49 L199.48,725.60 L200.12,724.69 L200.76,723.76 L201.41,722.82 L202.05,721.86 L202.69,720.88 L203.34,719.88 L203.98,718.86 L204.62,717.82 L205.26,716.76 L205.91,715.68 L206.55,714.59 L207.19,713.47 L207.84,712.34 L208.48,711.18 L209.12,710.01 L209.77,708.82 L210.41,707.61 L211.05,706.38 L211.69,705.13 L212.34,703.86 L212.98,702.58 L213.62,701.27 L214.27,699.95 L214.91,698.61 L215.55,697.25 L216.20,695.88 L216.84,694.48 L217.48,693.07 L218.12,691.65 L218.77,690.20 L219.41,688.75 L220.05,687.27 L220.70,685.78 L221.34,684.28 L221.98,682.76 L222.63,681.23 L223.27,679.69 L223.91,678.13 L224.55,676.56 L225.20,674.98 L225.84,673.39 L226.48,671.79 L227.13,670.18 L227.77,668.56 L228.41,666.93 L229.06,665.29 L229.70,663.65 L230.34,662.00 L230.98,660.34 L231.63,658.68 L232.27,657.02 L232.91,655.36 L233.56,653.69 L234.20,652.02 L234.84,650.34 L235.49,648.67 L236.13,647.00 L236.77,645.33 L237.41,643.67 L238.06,642.01 L238.70,640.35 L239.34,638.70 L239.99,637.05 L240.63,635.41 L241.27,633.78 L241.91,632.16 L242.56,630.54 L243.20,628.94 L243.84,627.35 L244.49,625.77 L245.13,624.21 L245.77,622.65 L246.42,621.12 L247.06,619.60 L247.70,618.09 L248.34,616.61 L248.99,615.14 L249.63,613.69 L250.27,612.26 L250.92,610.84 L251.56,609.45 L252.20,608.09 L252.85,606.74 L253.49,605.42 L254.13,604.12 L254.77,602.84 L255.42,601.59 L256.06,600.36 L256.70,599.16 L257.35,597.99 L257.99,596.84 L258.63,595.71 L259.28,594.62 L259.92,593.55 L260.56,592.50 L261.20,591.49 L261.85,590.50 L262.49,589.54 L263.13,588.60 L263.78,587.70 L264.42,586.82 L265.06,585.96 L265.71,585.14 L266.35,584.34 L266.99,583.57 L267.63,582.82 L268.28,582.10 L268.92,581.41 L269.56,580.74 L270.21,580.10 L270.85,579.48 L271.49,578.89 L272.14,578.31 L272.78,577.77 L273.42,577.24 L274.06,576.74 L274.71,576.26 L275.35,575.80 L275.99,575.36 L276.64,574.94 L277.28,574.54 L277.92,574.16 L278.56,573.80 L279.21,573.46 L279.85,573.13 L280.49,572.82 L281.14,572.53 L281.78,572.25 L282.42,571.98 L283.07,571.73 L283.71,571.50 L284.35,571.27 L284.99,571.06 L285.64,570.87 L286.28,570.68 L286.92,570.50 L287.57,570.34 L288.21,570.18 L288.85,570.03 L289.50,569.90 L290.14,569.77 L290.78,569.65 L291.42,569.53 L292.07,569.43 L292.71,569.33 L293.35,569.23 L294.00,569.15 L294.64,569.07 L295.28,568.99 L295.93,568.92 L296.57,568.85 L297.21,568.79 L297.85,568.74 L298.50,568.68 L299.14,568.63 L299.78,568.59 L300.43,568.55 L301.07,568.51 L301.71,568.47 L302.36,568.44 L303.00,568.40 L303.64,568.38 L304.28,568.35 L304.93,568.32 L305.57,568.30 L306.21,568.28 L306.86,568.26 L307.50,568.24 L308.14,568.22 L308.79,568.21 L309.43,568.19 L310.07,568.18 L310.71,568.17 L311.36,568.15 L312.00,568.14" fill="none" stroke="#000" stroke-width="1.2" stroke-linejoin="round"/>
<path d="M55.45,759.26 L56.12,759.26 L56.79,759.26 L57.46,759.26 L58.13,759.26 L58.80,759.25 L59.47,759.25 L60.14,759.25 L60.81,759.25 L61.48,759.25 L62.16,759.25 L62.83,759.25 L63.50,759.24 L64.17,759.24 L64.84,759.24 L65.51,759.24 L66.18,759.24 L66.85,759.24 L67.52,759.23 L68.19,759.23 L68.86,759.23 L69.53,759.23 L70.20,759.23 L70.87,759.22 L71.54,759.22 L72.21,759.22 L72.88,759.22 L73.55,759.22 L74.23,759.21 L74.90,759.21 L75.57,759.21 L76.24,759.21 L76.91,759.20 L77.58,759.20 L78.25,759.20 L78.92,759.20 L79.59,759.19 L80.26,759.19 L80.93,759.19 L81.60,759.18 L82.27,759.18 L82.94,759.18 L83.61,759.17 L84.28,759.17 L84.95,759.17 L85.62,759.16 L86.30,759.16 L86.97,759.16 L87.64,759.15 L88.31,759.15 L88.98,759.14 L89.65,759.14 L90.32,759.13 L90.99,759.13 L91.66,759.12 L92.33,759.12 L93.00,759.12 L93.67,759.11 L94.34,759.10 L95.01,759.10 L95.68,759.09 L96.35,759.09 L97.02,759.08 L97.69,759.08 L98.37,759.07 L99.04,759.06 L99.71,759.06 L100.38,759.05 L101.05,759.04 L101.72,759.04 L102.39,759.03 L103.06,759.02 L103.73,759.01 L104.40,759.01 L105.07,759.00 L105.74,758.99 L106.41,758.98 L107.08,758.97 L107.75,758.96 L108.42,758.95 L109.09,758.94 L109.76,758.93 L110.44,758.92 L111.11,758.91 L111.78,758.90 L112.45,758.89 L113.12,758.88 L113.79,758.87 L114.46,758.86 L115.13,758.84 L115.80,758.83 L116.47,758.82 L117.14,758.81 L117.81,758.79 L118.48,758.78 L119.15,758.76 L119.82,758.75 L120.49,758.73 L121.16,758.72 L121.83,758.70 L122.51,758.68 L123.18,758.67 L123.85,758.65 L124.52,758.63 L125.19,758.61 L125.86,758.60 L126.53,758.58 L127.20,758.56 L127.87,758.53 L128.54,758.51 L129.21,758.49 L129.88,758.47 L130.55,758.45 L131.22,758.42 L131.89,758.40 L132.56,758.37 L133.23,758.35 L133.90,758.32 L134.58,758.30 L135.25,758.27 L135.92,758.24 L136.59,758.21 L137.26,758.18 L137.93,758.15 L138.60,758.12 L139.27,758.08 L139.94,758.05 L140.61,758.02 L141.28,757.98 L141.95,757.95 L142.62,757.91 L143.29,757.87 L143.96,757.83 L144.63,757.79 L145.30,757.75 L145.97,757.71 L146.64,757.66 L147.32,757.62 L147.99,757.57 L148.66,757.52 L149.33,757.47 L150.00,757.42 L150.67,757.37 L151.34,757.32 L152.01,757.27 L152.68,757.21 L153.35,757.15 L154.02,757.09 L154.69,757.03 L155.36,756.97 L156.03,756.91 L156.70,756.84 L157.37,756.77 L158.04,756.70 L158.71,756.63 L159.39,756.56 L160.06,756.49 L160.73,756.41 L161.40,756.33 L162.07,756.25 L162.74,756.17 L163.41,756.08 L164.08,755.99 L164.75,755.90 L165.42,755.81 L166.09,755.71 L166.76,755.62 L167.43,755.52 L168.10,755.41 L168.77,755.31 L169.44,755.20 L170.11,755.09 L170.78,754.97 L171.46,754.85 L172.13,754.72 L172.80,754.59 L173.47,754.45 L174.14,754.30 L174.81,754.14 L175.48,753.98 L176.15,753.81 L176.82,753.63 L177.49,753.45 L178.16,753.25 L178.83,753.05 L179.50,752.84 L180.17,752.63 L180.84,752.40 L181.51,752.17 L182.18,751.92 L182.85,751.67 L183.53,751.41 L184.20,751.13 L184.87,750.85 L185.54,750.56 L186.21,750.26 L186.88,749.95 L187.55,749.62 L188.22,749.29 L188.89,748.95 L189.56,748.59 L190.23,748.22 L190.90,747.85 L191.57,747.46 L192.24,747.05 L192.91,746.64 L193.58,746.22 L194.25,745.78 L194.92,745.33 L195.60,744.87 L196.27,744.39 L196.94,743.90 L197.61,743.40 L198.28,742.89 L198.95,742.36 L199.62,741.82 L200.29,741.27 L200.96,740.70 L201.63,740.12 L202.30,739.53 L202.97,738.92 L203.64,738.30 L204.31,737.66 L204.98,737.01 L205.65,736.34 L206.32,735.67 L206.99,734.97 L207.67,734.27 L208.34,733.54 L209.01,732.81 L209.68,732.06 L210.35,731.29 L211.02,730.51 L211.69,729.71 L212.36,728.90 L213.03,728.07 L213.70,727.23 L214.37,726.38 L215.04,725.50 L215.71,724.62 L216.38,723.71 L217.05,722.79 L217.72,721.86 L218.39,720.91 L219.06,719.94 L219.74,718.96 L220.41,717.96 L221.08,716.95 L221.75,715.92 L222.42,714.87 L223.09,713.80 L223.76,712.72 L224.43,711.63 L225.10,710.51 L225.77,709.38 L226.44,708.23 L227.11,707.07 L227.78,705.89 L228.45,704.69 L229.12,703.47 L229.79,702.24 L230.46,700.99 L231.13,699.72 L231.81,698.43 L232.48,697.13 L233.15,695.81 L233.82,694.47 L234.49,693.12 L235.16,691.75 L235.83,690.36 L236.50,688.96 L237.17,687.54 L237.84,686.10 L238.51,684.64 L239.18,683.17 L239.85,681.69 L240.52,680.18 L241.19,678.67 L241.86,677.13 L242.53,675.59 L243.20,674.03 L243.87,672.45 L244.55,670.86 L245.22,669.26 L245.89,667.65 L246.56,666.03 L247.23,664.39 L247.90,662.74 L248.57,661.09 L249.24,659.42 L249.91,657.75 L250.58,656.07 L251.25,654.39 L251.92,652.69 L252.59,651.00 L253.26,649.30 L253.93,647.60 L254.60,645.89 L255.27,644.19 L255.94,642.48 L256.62,640.78 L257.29,639.08 L257.96,637.38 L258.63,635.69 L259.30,634.00 L259.97,632.32 L260.64,630.65 L261.31,628.99 L261.98,627.34 L262.65,625.70 L263.32,624.07 L263.99,622.46 L264.66,620.87 L265.33,619.29 L266.00,617.72 L266.67,616.18 L267.34,614.65 L268.01,613.14 L268.69,611.66 L269.36,610.20 L270.03,608.76 L270.70,607.34 L271.37,605.95 L272.04,604.59 L272.71,603.25 L273.38,601.93 L274.05,600.65 L274.72,599.39 L275.39,598.16 L276.06,596.96 L276.73,595.78 L277.40,594.64 L278.07,593.52 L278.74,592.44 L279.41,591.38 L280.08,590.35 L280.76,589.36 L281.43,588.39 L282.10,587.45 L282.77,586.54 L283.44,585.66 L284.11,584.81 L284.78,583.99 L285.45,583.20 L286.12,582.44 L286.79,581.70 L287.46,580.99 L288.13,580.31 L288.80,579.65 L289.47,579.02 L290.14,578.41 L290.81,577.83 L291.48,577.28 L292.15,576.75 L292.83,576.24 L293.50,575.75 L294.17,575.29 L294.84,574.85 L295.51,574.43 L296.18,574.02 L296.85,573.64 L297.52,573.28 L298.19,572.94 L298.86,572.61 L299.53,572.30 L300.20,572.01 L300.87,571.73 L301.54,571.47 L302.21,571.22 L302.88,570.99 L303.55,570.77 L304.22,570.56 L304.90,570.37 L305.57,570.19 L306.24,570.02 L306.91,569.86 L307.58,569.71 L308.25,569.57 L308.92,569.44 L309.59,569.32 L310.26,569.20 L310.93,569.10 L311.60,569.00 L312.27,568.91 L312.94,568.83 L313.61,568.75 L314.28,568.68 L314.95,568.62 L315.62,568.56 L316.29,568.50 L316.97,568.45 L317.64,568.40 L318.31,568.36 L318.98,568.33 L319.65,568.29 L320.32,568.26 L320.99,568.24 L321.66,568.21 L322.33,568.19 L323.00,568.17" fill="none" stroke="#000" stroke-width="1.2" stroke-linejoin="round"/>
<path d="M55.45,759.30 L56.16,759.30 L56.88,759.30 L57.59,759.30 L58.30,759.30 L59.02,759.30 L59.73,759.30 L60.44,759.30 L61.16,759.30 L61.87,759.30 L62.58,759.30 L63.29,759.30 L64.01,759.30 L64.72,759.30 L65.43,759.30 L66.15,759.29 L66.86,759.29 L67.57,759.29 L68.29,759.29 L69.00,759.29 L69.71,759.29 L70.43,759.29 L71.14,759.29 L71.85,759.29 L72.57,759.29 L73.28,759.29 L73.99,759.29 L74.71,759.29 L75.42,759.29 L76.13,759.29 L76.84,759.29 L77.56,759.29 L78.27,759.29 L78.98,759.29 L79.70,759.29 L80.41,759.29 L81.12,759.29 L81.84,759.29 L82.55,759.29 L83.26,759.29 L83.98,759.29 L84.69,759.29 L85.40,759.28 L86.12,759.28 L86.83,759.28 L87.54,759.28 L88.26,759.28 L88.97,759.28 L89.68,759.28 L90.39,759.28 L91.11,759.28 L91.82,759.28 L92.53,759.28 L93.25,759.28 L93.96,759.28 L94.67,759.27 L95.39,759.27 L96.10,759.27 L96.81,759.27 L97.53,759.27 L98.24,759.27 L98.95,759.27 L99.67,759.27 L100.38,759.26 L101.09,759.26 L101.81,759.26 L102.52,759.26 L103.23,759.26 L103.94,759.26 L104.66,759.25 L105.37,759.25 L106.08,759.25 L106.80,759.25 L107.51,759.25 L108.22,759.24 L108.94,759.24 L109.65,759.24 L110.36,759.24 L111.08,759.23 L111.79,759.23 L112.50,759.23 L113.22,759.23 L113.93,759.22 L114.64,759.22 L115.36,759.22 L116.07,759.21 L116.78,759.21 L117.49,759.20 L118.21,759.20 L118.92,759.20 L119.63,759.19 L120.35,759.19 L121.06,759.18 L121.77,759.18 L122.49,759.17 L123.20,759.17 L123.91,759.16 L124.63,759.16 L125.34,759.15 L126.05,759.14 L126.77,759.14 L127.48,759.13 L128.19,759.12 L128.91,759.12 L129.62,759.11 L130.33,759.10 L131.04,759.09 L131.76,759.09 L132.47,759.08 L133.18,759.07 L133.90,759.06 L134.61,759.05 L135.32,759.04 L136.04,759.03 L136.75,759.01 L137.46,759.00 L138.18,758.99 L138.89,758.98 L139.60,758.96 L140.32,758.95 L141.03,758.94 L141.74,758.92 L142.46,758.90 L143.17,758.89 L143.88,758.87 L144.59,758.85 L145.31,758.83 L146.02,758.82 L146.73,758.80 L147.45,758.77 L148.16,758.75 L148.87,758.73 L149.59,758.71 L150.30,758.68 L151.01,758.66 L151.73,758.63 L152.44,758.60 L153.15,758.57 L153.87,758.54 L154.58,758.51 L155.29,758.48 L156.01,758.44 L156.72,758.41 L157.43,758.37 L158.14,758.33 L158.86,758.29 L159.57,758.25 L160.28,758.21 L161.00,758.16 L161.71,758.12 L162.42,758.07 L163.14,758.02 L163.85,757.96 L164.56,757.91 L165.28,757.85 L165.99,757.79 L166.70,757.73 L167.42,757.67 L168.13,757.60 L168.84,757.53 L169.56,757.46 L170.27,757.38 L170.98,757.30 L171.69,757.22 L172.41,757.13 L173.12,757.04 L173.83,756.95 L174.55,756.85 L175.26,756.75 L175.97,756.65 L176.69,756.54 L177.40,756.43 L178.11,756.31 L178.83,756.19 L179.54,756.06 L180.25,755.93 L180.97,755.79 L181.68,755.65 L182.39,755.51 L183.11,755.37 L183.82,755.22 L184.53,755.06 L185.24,754.91 L185.96,754.75 L186.67,754.58 L187.38,754.42 L188.10,754.24 L188.81,754.07 L189.52,753.89 L190.24,753.71 L190.95,753.52 L191.66,753.32 L192.38,753.13 L193.09,752.92 L193.80,752.72 L194.52,752.50 L195.23,752.29 L195.94,752.06 L196.66,751.83 L197.37,751.60 L198.08,751.36 L198.79,751.11 L199.51,750.86 L200.22,750.60 L200.93,750.33 L201.65,750.06 L202.36,749.78 L203.07,749.49 L203.79,749.19 L204.50,748.89 L205.21,748.58 L205.93,748.26 L206.64,747.93 L207.35,747.59 L208.07,747.24 L208.78,746.88 L209.49,746.52 L210.21,746.14 L210.92,745.75 L211.63,745.35 L212.34,744.95 L213.06,744.53 L213.77,744.09 L214.48,743.65 L215.20,743.20 L215.91,742.73 L216.62,742.25 L217.34,741.75 L218.05,741.24 L218.76,740.72 L219.48,740.19 L220.19,739.64 L220.90,739.07 L221.62,738.49 L222.33,737.90 L223.04,737.28 L223.76,736.66 L224.47,736.01 L225.18,735.35 L225.89,734.67 L226.61,733.98 L227.32,733.26 L228.03,732.53 L228.75,731.78 L229.46,731.01 L230.17,730.23 L230.89,729.42 L231.60,728.59 L232.31,727.75 L233.03,726.88 L233.74,725.99 L234.45,725.08 L235.17,724.15 L235.88,723.20 L236.59,722.23 L237.31,721.24 L238.02,720.23 L238.73,719.19 L239.44,718.13 L240.16,717.05 L240.87,715.95 L241.58,714.83 L242.30,713.68 L243.01,712.51 L243.72,711.32 L244.44,710.11 L245.15,708.87 L245.86,707.61 L246.58,706.33 L247.29,705.03 L248.00,703.71 L248.72,702.36 L249.43,701.00 L250.14,699.61 L250.86,698.20 L251.57,696.77 L252.28,695.31 L252.99,693.84 L253.71,692.35 L254.42,690.84 L255.13,689.31 L255.85,687.76 L256.56,686.19 L257.27,684.61 L257.99,683.00 L258.70,681.38 L259.41,679.75 L260.13,678.10 L260.84,676.43 L261.55,674.75 L262.27,673.05 L262.98,671.35 L263.69,669.62 L264.41,667.89 L265.12,666.15 L265.83,664.39 L266.54,662.63 L267.26,660.86 L267.97,659.08 L268.68,657.29 L269.40,655.50 L270.11,653.70 L270.82,651.90 L271.54,650.09 L272.25,648.29 L272.96,646.48 L273.68,644.67 L274.39,642.86 L275.10,641.05 L275.82,639.25 L276.53,637.45 L277.24,635.66 L277.96,633.87 L278.67,632.09 L279.38,630.31 L280.09,628.55 L280.81,626.80 L281.52,625.06 L282.23,623.33 L282.95,621.61 L283.66,619.92 L284.37,618.23 L285.09,616.57 L285.80,614.92 L286.51,613.29 L287.23,611.69 L287.94,610.10 L288.65,608.54 L289.37,607.01 L290.08,605.49 L290.79,604.01 L291.51,602.55 L292.22,601.12 L292.93,599.71 L293.64,598.34 L294.36,597.00 L295.07,595.69 L295.78,594.41 L296.50,593.16 L297.21,591.94 L297.92,590.76 L298.64,589.62 L299.35,588.50 L300.06,587.42 L300.78,586.38 L301.49,585.37 L302.20,584.40 L302.92,583.46 L303.63,582.56 L304.34,581.69 L305.06,580.85 L305.77,580.06 L306.48,579.29 L307.19,578.56 L307.91,577.86 L308.62,577.20 L309.33,576.56 L310.05,575.96 L310.76,575.39 L311.47,574.85 L312.19,574.34 L312.90,573.86 L313.61,573.41 L314.33,572.98 L315.04,572.58 L315.75,572.21 L316.47,571.85 L317.18,571.53 L317.89,571.22 L318.61,570.94 L319.32,570.67 L320.03,570.43 L320.74,570.20 L321.46,569.99 L322.17,569.80 L322.88,569.62 L323.60,569.46 L324.31,569.31 L325.02,569.17 L325.74,569.05 L326.45,568.93 L327.16,568.83 L327.88,568.74 L328.59,568.65 L329.30,568.58 L330.02,568.51 L330.73,568.45 L331.44,568.39 L332.16,568.35 L332.87,568.30 L333.58,568.26 L334.29,568.23 L335.01,568.20 L335.72,568.18 L336.43,568.16 L337.15,568.14 L337.86,568.12 L338.57,568.10 L339.29,568.09 L340.00,568.08" fill="none" stroke="#000" stroke-width="1.2" stroke-linejoin="round"/>
<text x="197.70" y="816.40" font-size="14" text-anchor="middle" >log<tspan font-size="11" dy="3.5">10</tspan><tspan dy="-3.5">(&#160;t&#160;&#160;/&#160;&#160;s&#160;)</tspan></text>
<text transform="translate(15,673.6) rotate(-90)" style="font-family:'Liberation Serif',serif" font-style="italic" font-size="18.5">&#966;</text>
<text transform="translate(8.0,658.7) rotate(-90)" font-size="13">&#961;</text>
<text transform="translate(22.6,662.6) rotate(-90)" font-size="13">cell</text>
<text x="5.1" y="565" style="font-family:'Liberation Serif',serif" font-size="23">c)</text>
</svg>
</body></html>
